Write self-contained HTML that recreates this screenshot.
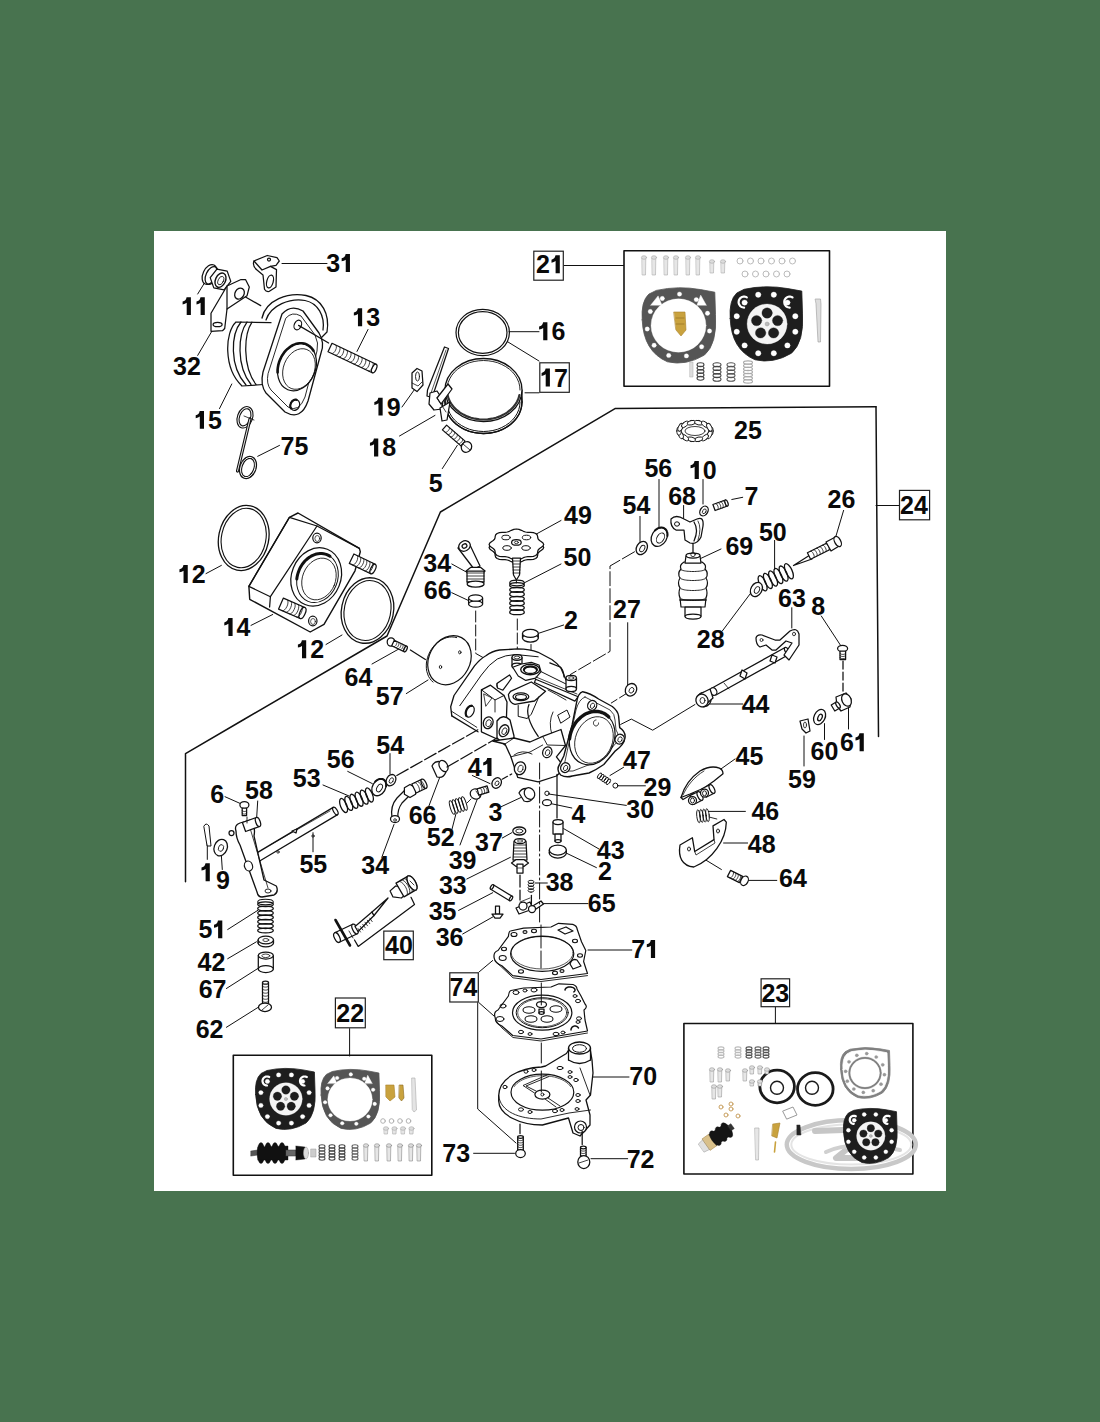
<!DOCTYPE html>
<html><head><meta charset="utf-8"><style>
html,body{margin:0;padding:0;background:#48734f;width:1100px;height:1422px;overflow:hidden}
svg{position:absolute;left:0;top:0;display:block}
</style></head><body>
<svg width="1100" height="1422" viewBox="0 0 1100 1422">
<rect x="154" y="231" width="792" height="960" fill="#fff"/>
<g fill="none" stroke="#111" stroke-width="1.25" stroke-linecap="round" stroke-linejoin="round">
<path d="M282.0,263.5 L327.0,263.5" stroke-width="1.0"/>
<path d="M197.7,294.0 L206.0,280.5" stroke-width="1.0"/>
<path d="M197.7,355.4 L211.4,332.0" stroke-width="1.0"/>
<path d="M357.0,351.4 L368.0,329.5" stroke-width="1.0"/>
<path d="M219.5,408.6 L231.8,384.0" stroke-width="1.0"/>
<path d="M257.7,456.3 L279.5,445.4" stroke-width="1.0"/>
<path d="M402.0,407.0 L414.5,389.5" stroke-width="1.0"/>
<path d="M399.5,436.0 L435.0,415.4" stroke-width="1.0"/>
<path d="M442.3,468.6 L457.3,445.4" stroke-width="1.0"/>
<path d="M509.0,331.7 L539.0,331.7" stroke-width="1.0"/>
<path d="M507.7,341.8 L539.0,361.0" stroke-width="1.0"/>
<path d="M525.0,392.8 L539.0,392.8" stroke-width="1.0"/>
<path d="M564.0,265.5 L623.6,265.5" stroke-width="1.0"/>
<path d="M206.0,573.6 L221.4,565.4" stroke-width="1.0"/>
<path d="M251.0,625.4 L272.7,614.5" stroke-width="1.0"/>
<path d="M326.0,644.5 L342.0,635.0" stroke-width="1.0"/>
<path d="M372.0,664.0 L399.5,648.6" stroke-width="1.0"/>
<path d="M406.3,693.6 L428.0,680.0" stroke-width="1.0"/>
<path d="M536.4,534.0 L561.0,520.5" stroke-width="1.0"/>
<path d="M524.0,583.0 L561.0,564.0" stroke-width="1.0"/>
<path d="M451.8,564.0 L466.8,572.3" stroke-width="1.0"/>
<path d="M451.8,592.7 L469.5,601.0" stroke-width="1.0"/>
<path d="M537.7,633.6 L563.6,625.0" stroke-width="1.0"/>
<path d="M627.7,622.7 L627.7,685.4" stroke-width="1.0"/>
<path d="M640.0,516.4 L640.0,542.3" stroke-width="1.0"/>
<path d="M659.0,479.5 L659.0,528.6" stroke-width="1.0"/>
<path d="M683.6,505.5 L683.6,523.0" stroke-width="1.0"/>
<path d="M731.8,499.5 L742.7,497.3" stroke-width="1.0"/>
<path d="M703.0,479.5 L703.0,504.0" stroke-width="1.0"/>
<path d="M835.4,538.0 L843.6,510.4" stroke-width="1.0"/>
<path d="M774.6,540.4 L774.6,569.5" stroke-width="1.0"/>
<path d="M700.4,558.6 L721.0,549.0" stroke-width="1.0"/>
<path d="M791.8,607.7 L791.8,628.0" stroke-width="1.0"/>
<path d="M821.3,616.0 L841.0,646.0" stroke-width="1.0"/>
<path d="M722.3,631.0 L751.0,592.7" stroke-width="1.0"/>
<path d="M710.0,704.0 L742.7,704.0" stroke-width="1.0"/>
<path d="M876.0,505.5 L898.7,505.5" stroke-width="1.0"/>
<path d="M390.0,753.6 L390.0,774.0" stroke-width="1.0"/>
<path d="M347.7,771.4 L372.3,783.6" stroke-width="1.0"/>
<path d="M323.0,785.0 L349.0,796.0" stroke-width="1.0"/>
<path d="M225.0,796.7 L241.4,804.0" stroke-width="1.0"/>
<path d="M257.7,801.0 L256.4,821.8" stroke-width="1.0"/>
<path d="M313.0,832.7 L313.0,851.8" stroke-width="1.0"/>
<path d="M381.8,857.3 L394.0,824.5" stroke-width="1.0"/>
<path d="M207.3,842.3 L207.3,859.4" stroke-width="1.0"/>
<path d="M221.4,856.0 L222.3,869.5" stroke-width="1.0"/>
<path d="M227.7,929.5 L257.7,910.4" stroke-width="1.0"/>
<path d="M227.7,958.7 L256.4,941.8" stroke-width="1.0"/>
<path d="M472.3,775.5 L490.0,783.6" stroke-width="1.0"/>
<path d="M610.0,775.5 L623.6,767.3" stroke-width="1.0"/>
<path d="M618.0,785.8 L645.4,785.8" stroke-width="1.0"/>
<path d="M548.6,794.0 L626.3,805.4" stroke-width="1.0"/>
<path d="M549.4,803.3 L571.8,808.0" stroke-width="1.0"/>
<path d="M501.0,806.8 L521.4,797.3" stroke-width="1.0"/>
<path d="M428.6,806.8 L439.5,778.0" stroke-width="1.0"/>
<path d="M451.8,830.0 L456.0,813.6" stroke-width="1.0"/>
<path d="M460.0,845.0 L479.0,794.5" stroke-width="1.0"/>
<path d="M502.3,838.0 L511.8,832.7" stroke-width="1.0"/>
<path d="M563.6,828.6 L599.0,849.0" stroke-width="1.0"/>
<path d="M563.6,851.8 L596.4,867.6" stroke-width="1.0"/>
<path d="M466.8,879.0 L510.4,857.3" stroke-width="1.0"/>
<path d="M535.0,883.0 L547.3,883.0" stroke-width="1.0"/>
<path d="M541.8,903.6 L588.0,903.6" stroke-width="1.0"/>
<path d="M458.6,910.4 L492.7,892.7" stroke-width="1.0"/>
<path d="M462.7,934.0 L492.7,917.0" stroke-width="1.0"/>
<path d="M588.0,950.0 L631.8,950.0" stroke-width="1.0"/>
<path d="M719.5,770.0 L735.0,759.0" stroke-width="1.0"/>
<path d="M708.6,811.4 L745.4,811.4" stroke-width="1.0"/>
<path d="M723.6,843.0 L747.6,843.0" stroke-width="1.0"/>
<path d="M745.4,880.4 L776.8,880.4" stroke-width="1.0"/>
<path d="M692.3,851.8 L721.4,869.5" stroke-width="1.0"/>
<path d="M804.0,736.0 L804.0,766.0" stroke-width="1.0"/>
<path d="M824.5,723.6 L824.5,739.5" stroke-width="1.0"/>
<path d="M848.5,705.0 L848.5,729.0" stroke-width="1.0"/>
<path d="M226.4,988.5 L257.7,968.6" stroke-width="1.0"/>
<path d="M226.4,1027.3 L259.0,1006.8" stroke-width="1.0"/>
<path d="M349.6,1028.6 L349.6,1056.0" stroke-width="1.0"/>
<path d="M473.6,1153.3 L514.5,1153.3" stroke-width="1.0"/>
<path d="M591.0,1158.7 L627.7,1158.7" stroke-width="1.0"/>
<path d="M592.3,1077.0 L629.0,1077.0" stroke-width="1.0"/>
<path d="M775.4,1007.4 L775.4,1023.0" stroke-width="1.0"/>
<path d="M479.0,972.0 L492.7,960.5" stroke-width="1.0"/>
<path d="M479.0,1002.7 L494.0,1016.0" stroke-width="1.0"/>
<path d="M477.7,1002.7 L477.7,1109.0 L516.0,1143.0" stroke-width="1.0"/>
<path d="M876.0,406.7 L615.0,408.6 L440.4,512.0 L387.0,636.0 L243.0,720.0 L185.5,753.6 L185.5,881.8" stroke-width="1.5"/>
<path d="M876.0,406.7 L878.5,736.5" stroke-width="1.5"/>
<rect x="624" y="250.8" width="205.5" height="135.5" stroke-width="1.6"/>
<rect x="233.3" y="1055.3" width="198.5" height="120" stroke-width="1.6"/>
<rect x="683.9" y="1023.5" width="229" height="150.5" stroke-width="1.6"/>
<ellipse cx="209.5" cy="274.5" rx="6.5" ry="10.5" transform="rotate(25 209.5 274.5)" fill="#fff"/>
<ellipse cx="211.5" cy="275.5" rx="5.5" ry="9.5" transform="rotate(25 211.5 275.5)"/>
<path d="M230.8,281.4 L224.1,289.9 L213.8,287.9 L210.2,277.6 L216.9,269.1 L227.2,271.1Z" fill="#fff"/>
<ellipse cx="220.5" cy="280.2" rx="5.0" ry="7.5" transform="rotate(25 220.5 280.2)" stroke-width="1.4"/>
<ellipse cx="220.8" cy="280.6" rx="2.6" ry="4.5" transform="rotate(25 220.8 280.6)" stroke-width="0.8"/>
<path d="M211.0,313.3 L227.0,286.0 L241.0,279.5 L245.5,279.5 L249.3,287.0 L247.0,295.8 L227.0,309.0 L224.7,328.5 L222.5,330.7 L211.0,331.3Z" fill="#fff"/>
<path d="M227.0,286.0 L227.0,309.0"/>
<ellipse cx="239.5" cy="293.6" rx="4.5" ry="5.8" transform="rotate(30 239.5 293.6)" stroke-width="1.3"/>
<ellipse cx="217.6" cy="324.5" rx="4.5" ry="2.2"/>
<path d="M245.5,297.0 L260.7,305.6"/>
<path d="M254.0,261.0 L267.3,255.5 L277.0,257.6 L279.3,261.0 L276.0,265.3 L270.5,266.4 L262.0,270.0Z" fill="#fff"/>
<path d="M254,261 Q252,266 257,270 L263,275 L264.5,289.3 Q266,292 269,291.5 L276,287 L276.5,269.6 L270.5,266.4" fill="none"/>
<ellipse cx="270.0" cy="281.5" rx="3.2" ry="6.5" transform="rotate(15 270.0 281.5)"/>
<ellipse cx="269.0" cy="259.5" rx="1.5" ry="1.5"/>
<path d="M262,318 C266,300 288,292 306,295.5 C322,299 330,314 327,332 L321,338" fill="#fff" stroke-width="1.3"/>
<path d="M266,320 C271,305 290,298 305,300.5 C318,303 325,316 323,330" fill="none"/>
<path d="M271,322.7 L236,322 C225,332 223,368 242,386 L263.6,384.5" fill="#fff"/>
<path d="M241,322 C231,334 229,366 246,385" fill="none"/>
<path d="M247,322 C238,334 236,366 251,384.5" fill="none"/>
<path d="M252,322.2 C244,334 242,366 256,384.5" fill="none"/>
<path d="M282,314 Q291,304 303,311 L319,333 Q325,343 321,353 L308,401 Q301,421 285,412 L266,393 Q260,385 263,372 Z" fill="#fff" stroke-width="1.3"/>
<path d="M286,318 Q292,311 301,316 L315,335 Q319,343 317,351 L305,397 Q299,413 288,407 L271,390 Q266,384 268,374 Z" fill="none" stroke-width="0.9"/>
<ellipse cx="297.0" cy="367.0" rx="18.5" ry="24.5" transform="rotate(22 297.0 367.0)" fill="#fff"/>
<path d="M277.6,372.4 L277.6,369.8 L277.9,367.2 L278.4,364.6 L279.1,362.1 L280.1,359.6 L281.2,357.2 L282.5,354.9 L284.0,352.7 L285.7,350.7 L287.5,348.9 L289.4,347.4 L291.4,346.0 L293.4,344.9 L295.5,344.1 L297.6,343.6 L299.8,343.3 L301.8,343.3 L303.9,343.6 L305.8,344.1 L307.6,345.0 L309.3,346.1 L310.9,347.4 L312.3,349.0 L313.5,350.8" stroke-width="2.6"/>
<ellipse cx="299.0" cy="369.0" rx="15.5" ry="21.0" transform="rotate(22 299.0 369.0)" stroke-width="0.8"/>
<ellipse cx="297.8" cy="325.0" rx="3.5" ry="5.0" transform="rotate(25 297.8 325.0)" stroke-width="1.2"/>
<ellipse cx="295.0" cy="405.0" rx="4.5" ry="5.5" transform="rotate(25 295.0 405.0)" stroke-width="1.2"/>
<path d="M290.9,408.4 L290.7,407.9 L290.6,407.5 L290.4,407.0 L290.3,406.5 L290.3,405.9 L290.3,405.4 L290.4,404.8 L290.5,404.3 L290.7,403.8 L290.9,403.2 L291.1,402.7 L291.4,402.3 L291.7,401.8 L292.1,401.4 L292.5,401.0 L292.9,400.7 L293.3,400.4 L293.8,400.1 L294.2,399.9 L294.7,399.8 L295.2,399.7 L295.7,399.7 L296.1,399.7 L296.6,399.8" stroke-width="2.2"/>
<path d="M328.0,351.7 L372.2,372.7 L376.2,364.3 L332.0,343.3Z" fill="#fff"/>
<ellipse cx="374.2" cy="368.5" rx="2.1" ry="4.6" transform="rotate(25.413006136576573 374.2 368.5)" fill="#fff"/>
<path d="M335.7,345.1 L336.2,345.8 L336.4,346.9 L336.2,348.5 L335.6,350.1 L334.7,351.7 L333.6,352.8 L332.6,353.4 L331.7,353.4" stroke-width="0.8"/>
<path d="M339.3,346.8 L339.9,347.5 L340.1,348.7 L339.8,350.2 L339.2,351.9 L338.3,353.4 L337.3,354.6 L336.3,355.2 L335.4,355.2" stroke-width="0.8"/>
<path d="M343.0,348.6 L343.6,349.3 L343.8,350.4 L343.5,352.0 L342.9,353.6 L342.0,355.2 L341.0,356.3 L339.9,356.9 L339.1,356.9" stroke-width="0.8"/>
<path d="M346.7,350.3 L347.3,351.0 L347.5,352.2 L347.2,353.7 L346.6,355.4 L345.7,356.9 L344.7,358.1 L343.6,358.7 L342.8,358.7" stroke-width="0.8"/>
<path d="M350.4,352.1 L351.0,352.8 L351.1,353.9 L350.9,355.5 L350.3,357.1 L349.4,358.7 L348.3,359.8 L347.3,360.4 L346.4,360.4" stroke-width="0.8"/>
<path d="M354.1,353.8 L354.6,354.5 L354.8,355.7 L354.6,357.2 L354.0,358.9 L353.1,360.4 L352.0,361.6 L351.0,362.2 L350.1,362.2" stroke-width="0.8"/>
<path d="M357.8,355.6 L358.3,356.3 L358.5,357.4 L358.3,359.0 L357.7,360.6 L356.8,362.2 L355.7,363.3 L354.7,363.9 L353.8,363.9" stroke-width="0.8"/>
<path d="M361.4,357.3 L362.0,358.0 L362.2,359.2 L361.9,360.7 L361.3,362.4 L360.4,363.9 L359.4,365.1 L358.4,365.7 L357.5,365.7" stroke-width="0.8"/>
<path d="M365.1,359.1 L365.7,359.8 L365.9,360.9 L365.6,362.5 L365.0,364.1 L364.1,365.7 L363.1,366.8 L362.0,367.4 L361.2,367.4" stroke-width="0.8"/>
<path d="M368.8,360.8 L369.4,361.5 L369.6,362.7 L369.3,364.2 L368.7,365.9 L367.8,367.4 L366.8,368.6 L365.7,369.2 L364.9,369.2" stroke-width="0.8"/>
<path d="M372.5,362.6 L373.1,363.3 L373.2,364.4 L373.0,366.0 L372.4,367.6 L371.5,369.2 L370.4,370.3 L369.4,370.9 L368.5,370.9" stroke-width="0.8"/>
<path d="M298.6,325.4 L328.6,343.0"/>
<ellipse cx="245.0" cy="417.3" rx="6.5" ry="10.0" transform="rotate(20 245.0 417.3)" stroke-width="3.2" stroke="#111"/>
<ellipse cx="245.0" cy="417.3" rx="6.5" ry="10.0" transform="rotate(20 245.0 417.3)" stroke-width="1.0" stroke="#fff"/>
<path d="M250,419 L237.5,471" stroke-width="3.2" stroke="#111"/>
<path d="M250,419 L237.5,471" stroke-width="0.9" stroke="#fff"/>
<ellipse cx="248.0" cy="467.5" rx="7.0" ry="10.5" transform="rotate(20 248.0 467.5)" stroke-width="3.2" stroke="#111"/>
<ellipse cx="248.0" cy="467.5" rx="7.0" ry="10.5" transform="rotate(20 248.0 467.5)" stroke-width="0.9" stroke="#fff"/>
<path d="M244.0,416.0 L254.0,420.0" stroke-width="0.8"/>
<ellipse cx="482.7" cy="332.5" rx="26.7" ry="23.2" stroke-width="1.2"/>
<ellipse cx="482.7" cy="332.5" rx="24.3" ry="20.8" stroke-width="1.2"/>
<ellipse cx="483.5" cy="402.0" rx="38.5" ry="31.5" fill="#fff" stroke-width="1.3"/>
<path d="M445,390 L445,402" fill="none"/>
<path d="M522,390 L522,402" fill="none"/>
<ellipse cx="483.5" cy="390.0" rx="38.5" ry="31.5" fill="#fff" stroke-width="1.3"/>
<path d="M520.0,402.0 L519.7,405.9 L518.8,409.6 L517.2,413.3 L515.1,416.8 L512.5,420.0 L509.3,422.9 L505.7,425.4 L501.8,427.5 L497.5,429.3 L492.9,430.5 L488.3,431.2 L483.5,431.5 L478.7,431.2 L474.1,430.5 L469.5,429.3 L465.2,427.5 L461.3,425.4 L457.7,422.9 L454.5,420.0 L451.9,416.8 L449.8,413.3 L448.2,409.6 L447.3,405.9 L447.0,402.0" stroke-width="1.0"/>
<path d="M519.4,395.1 L518.5,398.5 L517.0,401.7 L515.1,404.8 L512.8,407.6 L510.0,410.2 L507.0,412.6 L503.6,414.6 L499.9,416.4 L496.0,417.7 L491.9,418.7 L487.7,419.3 L483.5,419.5 L479.3,419.3 L475.1,418.7 L471.0,417.7 L467.1,416.4 L463.4,414.6 L460.0,412.6 L457.0,410.2 L454.2,407.6 L451.9,404.8 L450.0,401.7 L448.5,398.5 L447.6,395.1" stroke-width="2.2" stroke="#333"/>
<path d="M522.0,402.0 L521.7,406.1 L520.7,410.2 L519.1,414.1 L516.8,417.8 L514.0,421.2 L510.7,424.3 L506.9,427.0 L502.8,429.3 L498.2,431.1 L493.5,432.4 L488.5,433.2 L483.5,433.5 L478.5,433.2 L473.5,432.4 L468.8,431.1 L464.2,429.3 L460.1,427.0 L456.3,424.3 L453.0,421.2 L450.2,417.8 L447.9,414.1 L446.3,410.2 L445.3,406.1 L445.0,402.0" stroke-width="1.3"/>
<path d="M447.0,390.0 L447.3,386.1 L448.2,382.4 L449.8,378.7 L451.9,375.2 L454.5,372.0 L457.7,369.1 L461.3,366.6 L465.2,364.5 L469.5,362.7 L474.1,361.5 L478.7,360.8 L483.5,360.5 L488.3,360.8 L492.9,361.5 L497.5,362.7 L501.8,364.5 L505.7,366.6 L509.3,369.1 L512.5,372.0 L515.1,375.2 L517.2,378.7 L518.8,382.4 L519.7,386.1 L520.0,390.0" stroke-width="0.9"/>
<path d="M444.5,347.0 L448.5,348.5 L434.0,392.0 L430.0,397.0 L427.0,396.0 L427.5,390.0Z" fill="#fff"/>
<path d="M446.0,350.0 L431.0,393.0" stroke-width="0.7"/>
<path d="M430.0,393.0 L437.0,391.0 L443.0,400.0 L442.0,409.0 L434.0,410.0 L429.0,404.0Z" fill="#fff"/>
<path d="M437.0,398.0 L448.0,384.0 L452.0,389.0 L441.0,404.0Z" fill="#fff"/>
<path d="M440.0,408.0 L450.0,402.0 L447.0,420.0 L442.0,421.0Z" fill="#fff"/>
<path d="M437.0,398.0 L446.0,412.0" stroke-width="0.8"/>
<path d="M412.0,373.0 L417.0,368.5 L422.0,371.0 L423.0,385.0 L417.0,391.6 L412.0,388.0Z" fill="#fff"/>
<ellipse cx="417.5" cy="376.5" rx="2.0" ry="4.5" stroke-width="0.9"/>
<path d="M412.0,383.0 L418.0,386.0 L422.0,382.0" stroke-width="0.8"/>
<path d="M442.4,429.9 L460.9,445.9 L465.1,441.1 L446.6,425.1Z" fill="#fff"/>
<path d="M449.2,427.4 L449.5,427.9 L449.4,428.7 L449.0,429.7 L448.2,430.7 L447.3,431.6 L446.4,432.2 L445.6,432.4 L445.0,432.2" stroke-width="0.8"/>
<path d="M451.9,429.7 L452.1,430.2 L452.0,431.0 L451.6,432.0 L450.9,433.0 L450.0,433.9 L449.1,434.4 L448.3,434.7 L447.7,434.5" stroke-width="0.8"/>
<path d="M454.5,431.9 L454.8,432.5 L454.7,433.3 L454.2,434.3 L453.5,435.3 L452.6,436.2 L451.7,436.7 L450.9,437.0 L450.3,436.8" stroke-width="0.8"/>
<path d="M457.2,434.2 L457.4,434.8 L457.3,435.6 L456.9,436.6 L456.2,437.6 L455.3,438.4 L454.4,439.0 L453.6,439.2 L453.0,439.1" stroke-width="0.8"/>
<path d="M459.8,436.5 L460.1,437.1 L460.0,437.9 L459.5,438.9 L458.8,439.9 L457.9,440.7 L457.0,441.3 L456.2,441.5 L455.6,441.3" stroke-width="0.8"/>
<path d="M462.5,438.8 L462.7,439.3 L462.6,440.2 L462.2,441.2 L461.4,442.2 L460.6,443.0 L459.6,443.6 L458.8,443.8 L458.3,443.6" stroke-width="0.8"/>
<ellipse cx="466.5" cy="447.0" rx="5.0" ry="5.5" transform="rotate(40 466.5 447.0)" fill="#fff"/>
<path d="M463.0,444.0 L470.0,450.0" stroke-width="0.8"/>
<ellipse cx="711.0" cy="431.0" rx="2.2" ry="4.2" fill="#fff" stroke-width="0.9"/>
<ellipse cx="709.4" cy="434.7" rx="2.2" ry="4.2" transform="rotate(25.714285714285715 709.4 434.7)" fill="#fff" stroke-width="0.9"/>
<ellipse cx="705.0" cy="437.6" rx="2.2" ry="4.2" transform="rotate(51.42857142857143 705.0 437.6)" fill="#fff" stroke-width="0.9"/>
<ellipse cx="698.6" cy="439.3" rx="2.2" ry="4.2" transform="rotate(77.14285714285714 698.6 439.3)" fill="#fff" stroke-width="0.9"/>
<ellipse cx="691.4" cy="439.3" rx="2.2" ry="4.2" transform="rotate(102.85714285714286 691.4 439.3)" fill="#fff" stroke-width="0.9"/>
<ellipse cx="685.0" cy="437.6" rx="2.2" ry="4.2" transform="rotate(128.57142857142858 685.0 437.6)" fill="#fff" stroke-width="0.9"/>
<ellipse cx="680.6" cy="434.7" rx="2.2" ry="4.2" transform="rotate(154.28571428571428 680.6 434.7)" fill="#fff" stroke-width="0.9"/>
<ellipse cx="679.0" cy="431.0" rx="2.2" ry="4.2" transform="rotate(180.0 679.0 431.0)" fill="#fff" stroke-width="0.9"/>
<ellipse cx="680.6" cy="427.3" rx="2.2" ry="4.2" transform="rotate(205.71428571428572 680.6 427.3)" fill="#fff" stroke-width="0.9"/>
<ellipse cx="685.0" cy="424.4" rx="2.2" ry="4.2" transform="rotate(231.42857142857142 685.0 424.4)" fill="#fff" stroke-width="0.9"/>
<ellipse cx="691.4" cy="422.7" rx="2.2" ry="4.2" transform="rotate(257.14285714285717 691.4 422.7)" fill="#fff" stroke-width="0.9"/>
<ellipse cx="698.6" cy="422.7" rx="2.2" ry="4.2" transform="rotate(282.85714285714283 698.6 422.7)" fill="#fff" stroke-width="0.9"/>
<ellipse cx="705.0" cy="424.4" rx="2.2" ry="4.2" transform="rotate(308.57142857142856 705.0 424.4)" fill="#fff" stroke-width="0.9"/>
<ellipse cx="709.4" cy="427.3" rx="2.2" ry="4.2" transform="rotate(334.2857142857143 709.4 427.3)" fill="#fff" stroke-width="0.9"/>
<ellipse cx="695.0" cy="431.0" rx="10.0" ry="4.5" stroke-width="0.8"/>
<ellipse cx="243.7" cy="538.0" rx="25.0" ry="32.8" transform="rotate(12 243.7 538.0)" stroke-width="1.3"/>
<ellipse cx="243.7" cy="538.0" rx="22.2" ry="30.0" transform="rotate(12 243.7 538.0)" stroke-width="1.1"/>
<ellipse cx="367.5" cy="610.5" rx="26.0" ry="33.0" transform="rotate(12 367.5 610.5)" stroke-width="1.3"/>
<ellipse cx="367.5" cy="610.5" rx="23.2" ry="30.2" transform="rotate(12 367.5 610.5)" stroke-width="1.1"/>
<path d="M289.4,517.3 L298.0,513.0 L359.4,548.4 L360.3,551.8 L355.0,570.8 L324.0,624.4 L310.2,632.0 L249.7,599.3 L248.9,586.4Z" fill="#fff" stroke-width="1.4"/>
<path d="M289.4,517.3 L317.0,526.0 L359.4,548.4"/>
<path d="M317.0,526.0 L270.4,596.7 L269.6,607.0"/>
<path d="M248.9,586.4 L270.4,596.7"/>
<path d="M289.0,518.0 L249.0,586.0"/>
<ellipse cx="316.2" cy="576.9" rx="24.6" ry="29.8" transform="rotate(22 316.2 576.9)" fill="#fff"/>
<ellipse cx="317.5" cy="578.0" rx="20.0" ry="25.2" transform="rotate(22 317.5 578.0)" stroke-width="1.0"/>
<path d="M296.8,579.0 L297.1,576.8 L297.6,574.7 L298.2,572.6 L299.0,570.5 L299.8,568.5 L300.9,566.6 L302.0,564.7 L303.3,563.0 L304.7,561.3 L306.2,559.8 L307.7,558.5 L309.4,557.2 L311.1,556.2 L312.8,555.3 L314.6,554.6 L316.4,554.0 L318.2,553.7 L320.0,553.5 L321.8,553.5 L323.6,553.7 L325.3,554.1 L326.9,554.6 L328.5,555.4 L330.0,556.3" stroke-width="3.0"/>
<ellipse cx="319.0" cy="579.0" rx="16.5" ry="21.5" transform="rotate(22 319.0 579.0)" stroke-width="0.8"/>
<ellipse cx="317.0" cy="538.0" rx="4.2" ry="4.8" stroke-width="1.2"/>
<ellipse cx="317.3" cy="538.5" rx="2.4" ry="3.0" stroke-width="0.7"/>
<ellipse cx="312.8" cy="621.0" rx="4.2" ry="4.8" stroke-width="1.2"/>
<ellipse cx="313.0" cy="621.5" rx="2.4" ry="3.0" stroke-width="0.7"/>
<path d="M349.3,563.4 L370.7,573.7 L375.3,564.3 L353.9,554.0Z" fill="#fff"/>
<ellipse cx="373.0" cy="569.0" rx="2.3" ry="5.2" transform="rotate(25.701903228733627 373.0 569.0)" fill="#fff"/>
<path d="M356.9,555.5 L357.5,556.2 L357.7,557.6 L357.5,559.3 L356.8,561.2 L355.7,562.9 L354.6,564.2 L353.4,564.9 L352.4,564.9" stroke-width="0.8"/>
<path d="M360.0,557.0 L360.6,557.7 L360.8,559.0 L360.5,560.8 L359.8,562.7 L358.8,564.4 L357.6,565.7 L356.4,566.4 L355.5,566.3" stroke-width="0.8"/>
<path d="M363.0,558.4 L363.7,559.2 L363.9,560.5 L363.6,562.3 L362.9,564.1 L361.9,565.8 L360.7,567.1 L359.5,567.8 L358.5,567.8" stroke-width="0.8"/>
<path d="M366.1,559.9 L366.7,560.6 L366.9,562.0 L366.6,563.7 L365.9,565.6 L364.9,567.3 L363.7,568.6 L362.6,569.3 L361.6,569.3" stroke-width="0.8"/>
<path d="M369.1,561.4 L369.8,562.1 L370.0,563.5 L369.7,565.2 L369.0,567.1 L368.0,568.8 L366.8,570.1 L365.6,570.8 L364.6,570.7" stroke-width="0.8"/>
<path d="M372.2,562.8 L372.8,563.6 L373.0,564.9 L372.8,566.7 L372.1,568.5 L371.0,570.3 L369.8,571.6 L368.7,572.2 L367.7,572.2" stroke-width="0.8"/>
<path d="M278.6,609.1 L300.1,618.5 L304.9,607.5 L283.4,598.1Z" fill="#fff"/>
<ellipse cx="302.5" cy="613.0" rx="2.7" ry="6.0" transform="rotate(23.61539633036984 302.5 613.0)" fill="#fff"/>
<path d="M287.0,599.7 L287.8,600.5 L288.0,602.0 L287.8,604.1 L287.1,606.2 L285.9,608.3 L284.6,609.8 L283.3,610.7 L282.2,610.7" stroke-width="0.8"/>
<path d="M290.6,601.2 L291.3,602.1 L291.6,603.6 L291.4,605.6 L290.6,607.8 L289.5,609.8 L288.2,611.4 L286.9,612.2 L285.8,612.2" stroke-width="0.8"/>
<path d="M294.2,602.8 L294.9,603.6 L295.2,605.2 L295.0,607.2 L294.2,609.4 L293.1,611.4 L291.8,613.0 L290.5,613.8 L289.3,613.8" stroke-width="0.8"/>
<path d="M297.7,604.4 L298.5,605.2 L298.8,606.7 L298.5,608.8 L297.8,610.9 L296.7,613.0 L295.4,614.5 L294.1,615.4 L292.9,615.4" stroke-width="0.8"/>
<path d="M301.3,605.9 L302.1,606.8 L302.4,608.3 L302.1,610.3 L301.4,612.5 L300.3,614.5 L299.0,616.1 L297.6,616.9 L296.5,616.9" stroke-width="0.8"/>
<ellipse cx="391.0" cy="642.0" rx="3.8" ry="4.2" fill="#fff"/>
<path d="M391.7,645.7 L404.2,651.7 L406.8,646.3 L394.3,640.3Z" fill="#fff"/>
<ellipse cx="405.5" cy="649.0" rx="1.4" ry="3.0" transform="rotate(25.641005824305285 405.5 649.0)" fill="#fff"/>
<path d="M396.4,641.3 L396.7,641.7 L396.9,642.5 L396.7,643.5 L396.3,644.6 L395.7,645.6 L395.0,646.3 L394.3,646.7 L393.8,646.7" stroke-width="0.8"/>
<path d="M398.5,642.3 L398.8,642.7 L398.9,643.5 L398.8,644.5 L398.4,645.6 L397.8,646.6 L397.1,647.3 L396.4,647.7 L395.9,647.7" stroke-width="0.8"/>
<path d="M400.5,643.3 L400.9,643.7 L401.0,644.5 L400.9,645.5 L400.5,646.6 L399.9,647.6 L399.2,648.3 L398.5,648.7 L398.0,648.7" stroke-width="0.8"/>
<path d="M402.6,644.3 L403.0,644.7 L403.1,645.5 L403.0,646.5 L402.6,647.6 L402.0,648.6 L401.3,649.3 L400.6,649.7 L400.0,649.7" stroke-width="0.8"/>
<path d="M404.7,645.3 L405.1,645.7 L405.2,646.5 L405.0,647.5 L404.6,648.6 L404.0,649.6 L403.4,650.3 L402.7,650.7 L402.1,650.7" stroke-width="0.8"/>
<path d="M410.4,650.0 L425.4,659.5"/>
<ellipse cx="449.5" cy="660.2" rx="20.5" ry="25.6" transform="rotate(28 449.5 660.2)" fill="#fff" stroke-width="1.2"/>
<path d="M433.0,682.1 L431.3,680.4 L429.8,678.4 L428.5,676.3 L427.6,673.9 L426.8,671.3 L426.4,668.7 L426.3,665.9 L426.4,663.0 L426.9,660.2 L427.6,657.3 L428.6,654.6 L429.9,651.9 L431.4,649.3 L433.2,646.9 L435.1,644.7 L437.2,642.8 L439.5,641.0 L441.9,639.6 L444.3,638.5 L446.8,637.6 L449.4,637.1 L451.9,636.9 L454.3,637.1 L456.7,637.6" stroke-width="1.0"/>
<ellipse cx="459.8" cy="652.3" rx="1.2" ry="1.6" stroke-width="0.9"/>
<ellipse cx="440.5" cy="667.0" rx="1.2" ry="1.6" stroke-width="0.9"/>
<path d="M458,548 Q462,540 469,543 L480,566 L474,569 Z" fill="#fff"/>
<ellipse cx="464.5" cy="546.0" rx="6.0" ry="5.0" transform="rotate(-30 464.5 546.0)" fill="#fff"/>
<ellipse cx="464.5" cy="546.0" rx="2.5" ry="2.0" transform="rotate(-30 464.5 546.0)"/>
<path d="M485.1,571.0 L480.4,574.7 L470.9,574.7 L466.1,571.0 L470.9,567.3 L480.4,567.3Z" fill="#fff"/>
<path d="M467.0,571.0 L484.0,571.0 L484.0,582.0 L467.0,582.0Z" fill="#fff"/>
<path d="M467.0,573.0 L484.0,573.0" stroke-width="0.8"/>
<path d="M467.0,576.0 L484.0,576.0" stroke-width="0.8"/>
<path d="M467.0,579.0 L484.0,579.0" stroke-width="0.8"/>
<path d="M467.0,582.0 L484.0,582.0" stroke-width="0.8"/>
<ellipse cx="475.6" cy="584.0" rx="8.5" ry="3.0" fill="#fff"/>
<path d="M468.6,598.0 L482.6,598.0 L482.6,604.0 L468.6,604.0Z" fill="#fff"/>
<ellipse cx="475.6" cy="604.0" rx="7.0" ry="3.2" fill="#fff"/>
<ellipse cx="475.6" cy="598.0" rx="7.0" ry="3.2" fill="#fff"/>
<path d="M543.7,547.5 L543.0,549.0 L541.4,550.3 L539.6,551.5 L538.3,552.7 L537.8,554.0 L537.6,555.6 L537.1,557.2 L535.7,558.5 L533.4,559.3 L530.6,559.6 L527.8,559.7 L525.5,560.0 L523.4,560.7 L521.4,561.7 L519.0,562.6 L516.4,563.0 L513.8,562.6 L511.4,561.7 L509.4,560.7 L507.3,560.0 L505.0,559.7 L502.2,559.6 L499.4,559.3 L497.1,558.5 L495.7,557.2 L495.2,555.6 L495.0,554.0 L494.5,552.7 L493.2,551.5 L491.4,550.3 L489.8,549.0 L489.1,547.5 L489.8,546.0 L491.4,544.7 L493.2,543.5 L494.5,542.3 L495.0,541.0 L495.2,539.4 L495.7,537.8 L497.1,536.5 L499.4,535.7 L502.2,535.4 L505.0,535.3 L507.3,535.0 L509.4,534.3 L511.4,533.3 L513.8,532.4 L516.4,532.0 L519.0,532.4 L521.4,533.3 L523.4,534.3 L525.5,535.0 L527.8,535.3 L530.6,535.4 L533.4,535.7 L535.7,536.5 L537.1,537.8 L537.6,539.4 L537.8,541.0 L538.3,542.3 L539.6,543.5 L541.4,544.7 L543.0,546.0Z" fill="#fff"/>
<path d="M543.7,544.5 L543.0,546.0 L541.4,547.3 L539.6,548.5 L538.3,549.7 L537.8,551.0 L537.6,552.6 L537.1,554.2 L535.7,555.5 L533.4,556.3 L530.6,556.6 L527.8,556.7 L525.5,557.0 L523.4,557.7 L521.4,558.7 L519.0,559.6 L516.4,560.0 L513.8,559.6 L511.4,558.7 L509.4,557.7 L507.3,557.0 L505.0,556.7 L502.2,556.6 L499.4,556.3 L497.1,555.5 L495.7,554.2 L495.2,552.6 L495.0,551.0 L494.5,549.7 L493.2,548.5 L491.4,547.3 L489.8,546.0 L489.1,544.5 L489.8,543.0 L491.4,541.7 L493.2,540.5 L494.5,539.3 L495.0,538.0 L495.2,536.4 L495.7,534.8 L497.1,533.5 L499.4,532.7 L502.2,532.4 L505.0,532.3 L507.3,532.0 L509.4,531.3 L511.4,530.3 L513.8,529.4 L516.4,529.0 L519.0,529.4 L521.4,530.3 L523.4,531.3 L525.5,532.0 L527.8,532.3 L530.6,532.4 L533.4,532.7 L535.7,533.5 L537.1,534.8 L537.6,536.4 L537.8,538.0 L538.3,539.3 L539.6,540.5 L541.4,541.7 L543.0,543.0Z" fill="#fff"/>
<ellipse cx="506.0" cy="537.5" rx="4.2" ry="2.3" stroke-width="1.0"/>
<ellipse cx="526.5" cy="537.5" rx="4.2" ry="2.3" stroke-width="1.0"/>
<ellipse cx="507.0" cy="548.0" rx="4.2" ry="2.3" stroke-width="1.0"/>
<ellipse cx="526.0" cy="548.0" rx="4.2" ry="2.3" stroke-width="1.0"/>
<ellipse cx="516.4" cy="542.4" rx="4.8" ry="2.8"/>
<ellipse cx="516.4" cy="542.4" rx="2.0" ry="1.2" stroke-width="0.8"/>
<path d="M512.5,558.0 L520.5,558.0 L519.5,575.0 L516.4,580.0 L513.5,575.0Z" fill="#fff"/>
<path d="M513.0,561.0 L520.0,561.0" stroke-width="0.8"/>
<path d="M513.0,564.0 L520.0,564.0" stroke-width="0.8"/>
<path d="M513.0,567.0 L520.0,567.0" stroke-width="0.8"/>
<path d="M513.0,570.0 L520.0,570.0" stroke-width="0.8"/>
<path d="M513.0,573.0 L520.0,573.0" stroke-width="0.8"/>
<ellipse cx="517.0" cy="585.2" rx="2.5" ry="7.3" transform="rotate(90.0 517.0 585.2)" stroke-width="1.3"/>
<ellipse cx="517.0" cy="589.8" rx="2.5" ry="7.3" transform="rotate(90.0 517.0 589.8)" stroke-width="1.3"/>
<ellipse cx="517.0" cy="594.2" rx="2.5" ry="7.3" transform="rotate(90.0 517.0 594.2)" stroke-width="1.3"/>
<ellipse cx="517.0" cy="598.8" rx="2.5" ry="7.3" transform="rotate(90.0 517.0 598.8)" stroke-width="1.3"/>
<ellipse cx="517.0" cy="603.2" rx="2.5" ry="7.3" transform="rotate(90.0 517.0 603.2)" stroke-width="1.3"/>
<ellipse cx="517.0" cy="607.8" rx="2.5" ry="7.3" transform="rotate(90.0 517.0 607.8)" stroke-width="1.3"/>
<ellipse cx="517.0" cy="612.2" rx="2.5" ry="7.3" transform="rotate(90.0 517.0 612.2)" stroke-width="1.3"/>
<ellipse cx="517.0" cy="583.0" rx="7.3" ry="2.8" stroke-width="1.2"/>
<path d="M522.5,633.5 L538.3,633.5 L538.3,638.0 L522.5,638.0Z" fill="#fff"/>
<ellipse cx="530.4" cy="638.0" rx="7.9" ry="4.0" fill="#fff"/>
<ellipse cx="530.4" cy="633.4" rx="7.9" ry="4.0" fill="#fff"/>
<path d="M475.7,611.0 L475.7,653.4 L509.8,672.7" stroke-width="1.0" stroke-dasharray="11,3"/>
<path d="M517.3,619.0 L517.3,656.0" stroke-width="1.0" stroke-dasharray="11,3"/>
<path d="M531.0,644.5 L531.0,664.0" stroke-width="1.0"/>
<path d="M516.4,581.0 L516.4,583.0" stroke-width="1.0"/>
<path d="M634.5,551.8 L610.0,566.0 L610.0,651.4 L570.4,674.5" stroke-width="1.0" stroke-dasharray="14,3"/>
<path d="M626.3,693.6 L611.3,703.0" stroke-width="1.0" stroke-dasharray="8,3"/>
<path d="M695.0,704.5 L652.7,730.2 L631.3,719.1 L620.7,724.4" stroke-width="1.0"/>
<ellipse cx="641.8" cy="548.0" rx="5.2" ry="7.0" transform="rotate(30 641.8 548.0)" fill="#fff" stroke-width="1.3"/>
<ellipse cx="642.3" cy="548.5" rx="2.2" ry="3.5" transform="rotate(30 642.3 548.5)" stroke-width="0.9"/>
<ellipse cx="659.3" cy="537.0" rx="7.5" ry="10.0" transform="rotate(30 659.3 537.0)" fill="#fff" stroke-width="1.3"/>
<ellipse cx="660.5" cy="538.0" rx="3.5" ry="5.5" transform="rotate(30 660.5 538.0)" stroke-width="0.9"/>
<path d="M654.9,530.5 L655.6,529.9 L656.3,529.3 L657.0,528.9 L657.8,528.4 L658.5,528.1 L659.3,527.8 L660.1,527.7 L660.9,527.6 L661.6,527.6 L662.3,527.6 L663.0,527.8 L663.7,528.0 L664.3,528.4 L664.9,528.8 L665.5,529.2 L666.0,529.8 L666.4,530.4 L666.7,531.0 L667.0,531.8 L667.3,532.5 L667.4,533.3 L667.5,534.2 L667.5,535.0 L667.4,535.9" stroke-width="2"/>
<path d="M671,519 Q676,514 684,519 L690,522 L697,519 Q704,516 703,526 L701,537 Q697,545 690,543 L685,540 L684,530 L676,530 Q670,527 671,519 Z" fill="#fff"/>
<ellipse cx="677.0" cy="524.0" rx="2.5" ry="2.2" stroke-width="1.0"/>
<path d="M694,522 Q699,530 694,541" fill="none"/>
<path d="M698,521 Q702,528 698,540" fill="none" stroke-width="0.8"/>
<path d="M693.0,543.6 L693.0,551.8"/>
<ellipse cx="704.0" cy="511.0" rx="3.8" ry="5.2" transform="rotate(30 704.0 511.0)" fill="#fff" stroke-width="1.3"/>
<ellipse cx="704.3" cy="511.3" rx="1.6" ry="2.6" transform="rotate(30 704.3 511.3)" stroke-width="0.8"/>
<path d="M715.1,510.5 L727.6,506.0 L725.4,500.0 L712.9,504.5Z" fill="#fff"/>
<ellipse cx="726.5" cy="503.0" rx="1.4" ry="3.2" transform="rotate(-19.798876354524932 726.5 503.0)" fill="#fff"/>
<path d="M715.4,503.6 L716.0,503.6 L716.7,504.1 L717.3,505.0 L717.9,506.1 L718.2,507.3 L718.2,508.4 L718.0,509.2 L717.6,509.6" stroke-width="0.8"/>
<path d="M717.9,502.7 L718.5,502.7 L719.2,503.2 L719.8,504.1 L720.4,505.2 L720.7,506.4 L720.7,507.5 L720.5,508.3 L720.1,508.7" stroke-width="0.8"/>
<path d="M720.4,501.8 L721.0,501.8 L721.7,502.3 L722.3,503.2 L722.9,504.3 L723.2,505.5 L723.2,506.6 L723.0,507.4 L722.6,507.8" stroke-width="0.8"/>
<path d="M722.9,500.9 L723.5,500.9 L724.2,501.4 L724.8,502.3 L725.4,503.4 L725.7,504.6 L725.7,505.7 L725.5,506.5 L725.1,506.9" stroke-width="0.8"/>
<path d="M681,569 Q679,565 684,562 L702,562 Q707,565 705,569 Q709,573 706,578 Q709,583 706,588 Q708,593 706,598 L705,607 L681,607 L680,598 Q678,593 680,588 Q677,583 680,578 Q677,573 681,569 Z" fill="#fff" stroke-width="1.2"/>
<path d="M705.5,569.0 L705.4,569.3 L705.1,569.6 L704.5,570.0 L703.8,570.2 L702.9,570.5 L701.8,570.8 L700.6,571.0 L699.2,571.2 L697.8,571.3 L696.2,571.4 L694.6,571.5 L693.0,571.5 L691.4,571.5 L689.8,571.4 L688.2,571.3 L686.8,571.2 L685.4,571.0 L684.2,570.8 L683.1,570.5 L682.2,570.2 L681.5,570.0 L680.9,569.6 L680.6,569.3 L680.5,569.0" stroke-width="0.9"/>
<path d="M705.5,578.0 L705.4,578.3 L705.1,578.6 L704.5,579.0 L703.8,579.2 L702.9,579.5 L701.8,579.8 L700.6,580.0 L699.2,580.2 L697.8,580.3 L696.2,580.4 L694.6,580.5 L693.0,580.5 L691.4,580.5 L689.8,580.4 L688.2,580.3 L686.8,580.2 L685.4,580.0 L684.2,579.8 L683.1,579.5 L682.2,579.2 L681.5,579.0 L680.9,578.6 L680.6,578.3 L680.5,578.0" stroke-width="0.9"/>
<path d="M705.5,588.0 L705.4,588.3 L705.1,588.6 L704.5,589.0 L703.8,589.2 L702.9,589.5 L701.8,589.8 L700.6,590.0 L699.2,590.2 L697.8,590.3 L696.2,590.4 L694.6,590.5 L693.0,590.5 L691.4,590.5 L689.8,590.4 L688.2,590.3 L686.8,590.2 L685.4,590.0 L684.2,589.8 L683.1,589.5 L682.2,589.2 L681.5,589.0 L680.9,588.6 L680.6,588.3 L680.5,588.0" stroke-width="0.9"/>
<path d="M705.5,598.0 L705.4,598.3 L705.1,598.6 L704.5,599.0 L703.8,599.2 L702.9,599.5 L701.8,599.8 L700.6,600.0 L699.2,600.2 L697.8,600.3 L696.2,600.4 L694.6,600.5 L693.0,600.5 L691.4,600.5 L689.8,600.4 L688.2,600.3 L686.8,600.2 L685.4,600.0 L684.2,599.8 L683.1,599.5 L682.2,599.2 L681.5,599.0 L680.9,598.6 L680.6,598.3 L680.5,598.0" stroke-width="0.9"/>
<path d="M686.0,556.0 L700.0,556.0 L701.0,563.0 L685.0,563.0Z" fill="#fff"/>
<ellipse cx="693.0" cy="555.5" rx="7.0" ry="2.5" fill="#fff"/>
<ellipse cx="693.0" cy="554.5" rx="2.2" ry="2.2" stroke-width="0.8"/>
<path d="M685.0,607.0 L701.0,607.0 L701.0,616.0 L685.0,616.0Z" fill="#fff"/>
<ellipse cx="693.0" cy="616.5" rx="8.0" ry="2.5" fill="#fff"/>
<path d="M680.0,600.0 L706.0,600.0" stroke-width="1.6"/>
<path d="M793.5,565.5 L810.0,555.0 L812.0,559.0Z" fill="#fff"/>
<path d="M810.6,559.2 L831.6,548.7 L828.4,542.3 L807.4,552.8Z" fill="#fff"/>
<path d="M810.4,551.3 L811.1,551.2 L811.9,551.7 L812.7,552.6 L813.4,553.8 L814.0,555.1 L814.2,556.3 L814.0,557.2 L813.6,557.7" stroke-width="0.8"/>
<path d="M813.4,549.8 L814.1,549.7 L814.9,550.2 L815.7,551.1 L816.4,552.3 L817.0,553.6 L817.2,554.8 L817.0,555.7 L816.6,556.2" stroke-width="0.8"/>
<path d="M816.4,548.3 L817.1,548.2 L817.9,548.7 L818.7,549.6 L819.4,550.8 L820.0,552.1 L820.2,553.3 L820.0,554.2 L819.6,554.7" stroke-width="0.8"/>
<path d="M819.4,546.8 L820.1,546.7 L820.9,547.2 L821.7,548.1 L822.4,549.3 L823.0,550.6 L823.2,551.8 L823.0,552.7 L822.6,553.2" stroke-width="0.8"/>
<path d="M822.4,545.3 L823.1,545.2 L823.9,545.7 L824.7,546.6 L825.4,547.8 L826.0,549.1 L826.2,550.3 L826.0,551.2 L825.6,551.7" stroke-width="0.8"/>
<path d="M825.4,543.8 L826.1,543.7 L826.9,544.2 L827.7,545.1 L828.4,546.3 L829.0,547.6 L829.2,548.8 L829.0,549.7 L828.6,550.2" stroke-width="0.8"/>
<path d="M826.0,542.0 L835.5,537.0 L840.0,545.5 L831.0,551.0Z" fill="#fff"/>
<ellipse cx="837.7" cy="541.5" rx="3.0" ry="5.5" transform="rotate(-28 837.7 541.5)" fill="#fff"/>
<ellipse cx="762.6" cy="583.3" rx="3.2" ry="8.2" transform="rotate(-24.717440911083393 762.6 583.3)" stroke-width="1.3"/>
<ellipse cx="767.9" cy="580.9" rx="3.2" ry="8.2" transform="rotate(-24.717440911083393 767.9 580.9)" stroke-width="1.3"/>
<ellipse cx="773.1" cy="578.5" rx="3.2" ry="8.2" transform="rotate(-24.717440911083393 773.1 578.5)" stroke-width="1.3"/>
<ellipse cx="778.4" cy="576.0" rx="3.2" ry="8.2" transform="rotate(-24.717440911083393 778.4 576.0)" stroke-width="1.3"/>
<ellipse cx="783.6" cy="573.6" rx="3.2" ry="8.2" transform="rotate(-24.717440911083393 783.6 573.6)" stroke-width="1.3"/>
<ellipse cx="788.9" cy="571.2" rx="3.2" ry="8.2" transform="rotate(-24.717440911083393 788.9 571.2)" stroke-width="1.3"/>
<ellipse cx="756.4" cy="589.5" rx="5.5" ry="7.5" transform="rotate(30 756.4 589.5)" fill="#fff" stroke-width="1.3"/>
<ellipse cx="757.0" cy="590.0" rx="2.3" ry="3.5" transform="rotate(30 757.0 590.0)" stroke-width="0.9"/>
<path d="M715.9,695.0 L788.9,654.5 L785.1,647.5 L712.1,688.0Z" fill="#fff"/>
<ellipse cx="787.0" cy="651.0" rx="1.8" ry="4.0" transform="rotate(-29.021273224702597 787.0 651.0)" fill="#fff"/>
<ellipse cx="713.5" cy="691.5" rx="3.2" ry="4.0" transform="rotate(-29 713.5 691.5)" fill="#fff"/>
<path d="M724.0,683.0 L729.0,689.0" stroke-width="0.8"/>
<path d="M740.0,676.0 L745.0,679.0 L747.0,673.0 L742.0,670.0Z" fill="#fff"/>
<path d="M770.0,661.0 L775.0,663.0 L777.0,657.0 L772.0,655.0Z" fill="#fff"/>
<path d="M756,638 Q757,634 762,635 L775,640 L780,640 L790,631 Q797,627 799,634 L799,645 L789,660 L784,655 L792,643 L786,641 L776,650 L772,650 L766,645 L760,647 Q756,645 756,638 Z" fill="#fff"/>
<ellipse cx="761.5" cy="640.0" rx="1.5" ry="1.5" stroke-width="0.8"/>
<ellipse cx="794.0" cy="634.0" rx="1.5" ry="1.8" stroke-width="0.8"/>
<ellipse cx="704.0" cy="699.5" rx="7.0" ry="7.0" transform="rotate(-30 704.0 699.5)" fill="#fff" stroke-width="1.3"/>
<path d="M700.0,694.0 L710.0,689.0 L713.0,698.0 L705.0,705.0Z" fill="#fff"/>
<ellipse cx="702.0" cy="700.5" rx="6.0" ry="6.5" transform="rotate(-30 702.0 700.5)" fill="#fff" stroke-width="1.3"/>
<ellipse cx="702.5" cy="700.5" rx="2.5" ry="3.0" stroke-width="0.9"/>
<ellipse cx="842.6" cy="648.5" rx="5.0" ry="3.2" fill="#fff"/>
<path d="M840.0,651.0 L840.0,659.5 L845.6,659.5 L845.6,651.0Z" fill="#fff"/>
<path d="M845.6,653.1 L845.4,653.6 L844.8,654.0 L843.9,654.3 L842.8,654.4 L841.7,654.3 L840.8,654.0 L840.2,653.6 L840.0,653.1" stroke-width="0.8"/>
<path d="M845.6,655.2 L845.4,655.7 L844.8,656.1 L843.9,656.4 L842.8,656.5 L841.7,656.4 L840.8,656.1 L840.2,655.7 L840.0,655.2" stroke-width="0.8"/>
<path d="M845.6,657.4 L845.4,657.9 L844.8,658.3 L843.9,658.5 L842.8,658.6 L841.7,658.5 L840.8,658.3 L840.2,657.9 L840.0,657.4" stroke-width="0.8"/>
<path d="M843.0,661.0 L843.0,691.0" stroke-dasharray="8,3"/>
<path d="M836.0,697.0 L846.0,693.0 L851.0,699.0 L850.0,707.0 L841.0,711.0 L837.0,706.0Z" fill="#fff"/>
<ellipse cx="846.5" cy="700.0" rx="4.5" ry="6.5" transform="rotate(-25 846.5 700.0)" fill="#fff"/>
<path d="M834.8,711.0 L839.8,708.0 L836.2,702.0 L831.2,705.0Z" fill="#fff"/>
<ellipse cx="838.0" cy="705.0" rx="1.6" ry="3.5" transform="rotate(-30.96375653207352 838.0 705.0)" fill="#fff"/>
<ellipse cx="819.6" cy="717.0" rx="5.5" ry="8.0" transform="rotate(25 819.6 717.0)" fill="#fff" stroke-width="1.3"/>
<ellipse cx="820.0" cy="717.5" rx="2.0" ry="3.5" transform="rotate(25 820.0 717.5)"/>
<path d="M800.0,721.0 L808.0,719.0 L810.0,731.0 L806.0,733.0 L802.0,729.0Z" fill="#fff"/>
<ellipse cx="805.0" cy="725.0" rx="1.5" ry="3.0" stroke-width="0.8"/>
<ellipse cx="631.0" cy="689.8" rx="5.5" ry="6.5" transform="rotate(30 631.0 689.8)" fill="#fff" stroke-width="1.3"/>
<ellipse cx="631.5" cy="690.3" rx="2.2" ry="3.0" transform="rotate(30 631.5 690.3)" stroke-width="0.8"/>
<path d="M450.7,706.8 L454,695.5 L474.5,665.9 Q480,659 485.9,655.7 Q492,651 499.5,650 L517.7,648.9 Q530,649 538.2,652.3 L551.8,659.5 Q557,663 561,668.2 L566,680 L580,700 L590,720 L575,770 L540,786 L518,781 L492,748 L478,731.8 L451.8,715.9 Z" fill="#fff" stroke="none"/>
<path d="M451.8,715.9 L450.7,706.8 L454,695.5 L474.5,665.9 Q480,659 485.9,655.7 Q492,651 499.5,650 L517.7,648.9 Q530,649 538.2,652.3 L551.8,659.5 Q557,663 561,668.2 L566,680" fill="none" stroke-width="1.3"/>
<path d="M459.8,705.7 L481.4,675 Q489,664 497.3,659 Q505,655 515.5,654.5 L538.2,656.8" fill="none" stroke-width="1.0"/>
<path d="M451.8,711.4 L476.8,727.3" stroke-width="0.9"/>
<path d="M451.8,715.9 L478.0,731.8" stroke-width="1.3"/>
<ellipse cx="470.0" cy="711.4" rx="3.8" ry="6.0" transform="rotate(25 470.0 711.4)" fill="#fff" stroke-width="1.2"/>
<path d="M466.4,716.0 L466.2,715.6 L466.0,715.1 L465.9,714.6 L465.8,714.1 L465.7,713.6 L465.7,713.0 L465.8,712.4 L465.9,711.8 L466.1,711.1 L466.3,710.5 L466.5,709.9 L466.8,709.3 L467.1,708.8 L467.5,708.2 L467.9,707.7 L468.3,707.3 L468.7,706.9 L469.2,706.5 L469.6,706.3 L470.1,706.0 L470.6,705.9 L471.0,705.8 L471.5,705.7 L471.9,705.8" stroke-width="2.2"/>
<path d="M481.4,689.8 L490.5,685.2 L504,695.5 L507,702 L506,730 L497,739 L481.4,731.8 Z" fill="#fff" stroke-width="1.3"/>
<path d="M481.4,689.8 L495.0,700.0 L504.0,695.5" stroke-width="1.0"/>
<path d="M495.0,700.0 L495.0,712.0" stroke-width="0.9"/>
<path d="M484.0,694.0 L492.0,698.0 L486.0,706.0Z" fill="none" stroke-width="0.8"/>
<ellipse cx="488.2" cy="722.7" rx="4.8" ry="6.0" transform="rotate(20 488.2 722.7)" fill="#fff" stroke-width="1.3"/>
<ellipse cx="488.6" cy="723.2" rx="2.6" ry="3.6" transform="rotate(20 488.6 723.2)" stroke-width="0.8"/>
<path d="M496.9,683.6 L509.5,674.9 L511.6,678.2 L502.9,690.2 L497.5,688.0Z" fill="#fff" stroke-width="1.2"/>
<path d="M497.5,688 Q495,684 499,682" fill="none" stroke-width="0.9"/>
<path d="M512.0,657.5 L522.0,657.5 L522.0,666.0 L512.0,666.0Z" fill="#fff"/>
<ellipse cx="517.0" cy="666.0" rx="5.0" ry="2.8" fill="#fff"/>
<ellipse cx="517.0" cy="657.5" rx="5.0" ry="2.8" fill="#fff" stroke-width="1.3"/>
<ellipse cx="517.0" cy="657.5" rx="2.8" ry="1.5" stroke-width="0.9"/>
<path d="M512.7,667.3 L518.2,676 L525.8,680.4 L535.6,678.2 L541,671.6 L539,665 L531.3,662.4 L521.5,664 Z" fill="#fff" stroke-width="1.2"/>
<ellipse cx="530.2" cy="669.5" rx="9.5" ry="5.2" fill="#fff" stroke-width="1.4"/>
<ellipse cx="530.4" cy="670.0" rx="6.5" ry="3.5" stroke-width="1.3"/>
<path d="M523.9,670.0 L524.0,669.5 L524.1,669.1 L524.4,668.7 L524.8,668.2 L525.2,667.9 L525.8,667.5 L526.4,667.2 L527.1,667.0 L527.9,666.8 L528.7,666.6 L529.6,666.5 L530.4,666.5 L531.2,666.5 L532.1,666.6 L532.9,666.8 L533.6,667.0 L534.4,667.2 L535.0,667.5 L535.6,667.9 L536.0,668.2 L536.4,668.7 L536.7,669.1 L536.8,669.5 L536.9,670.0" stroke-width="2.2"/>
<path d="M549.8,662.9 L560.7,667.3 Q564,671 564,677" fill="none" stroke-width="1.2"/>
<path d="M541.0,671.6 L566.0,684.0" stroke-width="1.0"/>
<path d="M535.6,679.3 L578.2,696.7 L574.9,701.1 L534.5,682.5Z" fill="#fff" stroke-width="1.2"/>
<path d="M536.0,677.0 L577.0,694.0" stroke-width="0.8"/>
<path d="M529,704.5 Q524,716 538.2,736.4" fill="none"/>
<path d="M548,690 Q556,694 566,700" fill="none" stroke-width="0.9"/>
<path d="M553,712 Q548,722 552,735" fill="none" stroke-width="0.9"/>
<path d="M508.4,694.5 L510.5,691.3 L531.3,682 L545.5,691.3 L534.5,701 L514.9,704.4 Q509,703 508.4,694.5 Z" fill="#fff" stroke-width="1.3"/>
<ellipse cx="520.9" cy="696.7" rx="7.9" ry="3.8" fill="#fff" stroke-width="1.3"/>
<ellipse cx="521.0" cy="697.0" rx="5.5" ry="2.5" stroke-width="1.2"/>
<path d="M518.2,705.5 L518.2,716.4 L527.0,718.5" stroke-width="1.0"/>
<path d="M538.9,696.7 L531.3,714.2 L527.0,718.5" stroke-width="1.0"/>
<path d="M497,721 Q503,713 510,720 L514,736 Q514,746 505,745 L497,738 Z" fill="#fff" stroke-width="1.3"/>
<ellipse cx="504.0" cy="730.7" rx="4.6" ry="6.2" transform="rotate(25 504.0 730.7)" fill="#fff" stroke-width="1.3"/>
<ellipse cx="504.4" cy="731.2" rx="2.2" ry="3.6" transform="rotate(25 504.4 731.2)" stroke-width="0.8"/>
<path d="M492.7,741 L505,744 L510.9,756.8 L517.7,777.3 L538.2,781.8 L556.4,776 L565,768 L556.4,756.8 L565.5,745.5 L561,729.5 L542.7,736.4 L530,742 L514,738 Z" fill="#fff" stroke-width="1.3"/>
<path d="M505.0,744.0 L514.0,738.0" stroke-width="0.9"/>
<path d="M510.9,756.8 L530.0,752.0 L542.7,745.0" stroke-width="0.9"/>
<path d="M514,755 Q522,749 532,754" fill="none" stroke-width="0.9"/>
<path d="M542.7,736.4 L547.3,745.0 L565.5,745.5" stroke-width="0.9"/>
<ellipse cx="520.0" cy="768.2" rx="5.5" ry="6.5" transform="rotate(20 520.0 768.2)" fill="#fff" stroke-width="1.3"/>
<ellipse cx="520.5" cy="768.6" rx="2.5" ry="3.6" transform="rotate(20 520.5 768.6)" stroke-width="0.8"/>
<ellipse cx="547.3" cy="752.3" rx="4.6" ry="5.5" transform="rotate(20 547.3 752.3)" fill="#fff" stroke-width="1.2"/>
<ellipse cx="547.6" cy="752.6" rx="2.2" ry="3.0" transform="rotate(20 547.6 752.6)" stroke-width="0.8"/>
<path d="M582.7,691.7 Q590,693 598.6,699 L612.3,706.5 Q618,711 618.6,716 L619.7,727.6 Q626,732 625,738 Q624,745 615.4,750.8 L603.8,764.5 Q596,770 589,773 L572.2,776 Q566,778 560.6,775 Q556,770 559.5,764.5 L563.8,756 L572.2,724.4 L576.4,703.3 Q578,693 582.7,691.7 Z" fill="#fff" stroke-width="1.4"/>
<path d="M585,697 L610,710 Q615,714 615,720 L616,730 Q620,736 617,742 L601,760 L573,771 Q565,772 564,766 L576,710 Q579,699 585,697 Z" fill="none" stroke-width="0.8"/>
<ellipse cx="592.2" cy="738.1" rx="22.0" ry="27.4" transform="rotate(22 592.2 738.1)" fill="#fff" stroke-width="1.2"/>
<path d="M569.5,739.0 L569.9,736.5 L570.4,734.0 L571.2,731.5 L572.1,729.1 L573.2,726.8 L574.5,724.6 L575.9,722.4 L577.5,720.5 L579.3,718.7 L581.1,717.0 L583.0,715.6 L585.0,714.3 L587.1,713.3 L589.2,712.5 L591.4,711.9 L593.5,711.5 L595.7,711.4 L597.8,711.5 L599.9,711.9 L601.9,712.5 L603.8,713.3 L605.6,714.3 L607.3,715.6 L608.8,717.0" stroke-width="3.4"/>
<ellipse cx="594.0" cy="740.0" rx="18.5" ry="24.0" transform="rotate(22 594.0 740.0)" stroke-width="0.8"/>
<path d="M598.5,723.0 L598.5,723.6 L598.3,724.1 L598.1,724.7 L597.8,725.1 L597.4,725.5 L597.0,725.8 L596.5,725.9 L596.0,726.0 L595.5,725.9 L595.0,725.8 L594.6,725.5 L594.2,725.1 L593.9,724.7 L593.7,724.1 L593.5,723.6 L593.5,723.0 L593.5,722.4 L593.7,721.9 L593.9,721.3 L594.2,720.9 L594.6,720.5 L595.0,720.2 L595.5,720.1 L596.0,720.0" stroke-width="0.9"/>
<ellipse cx="592.2" cy="705.4" rx="4.5" ry="5.0" transform="rotate(25 592.2 705.4)" fill="#fff" stroke-width="1.3"/>
<ellipse cx="592.5" cy="705.8" rx="2.0" ry="2.8" transform="rotate(25 592.5 705.8)" stroke-width="0.8"/>
<ellipse cx="619.7" cy="739.2" rx="4.5" ry="5.0" transform="rotate(25 619.7 739.2)" fill="#fff" stroke-width="1.3"/>
<ellipse cx="620.0" cy="739.5" rx="2.0" ry="2.8" transform="rotate(25 620.0 739.5)" stroke-width="0.8"/>
<ellipse cx="565.3" cy="767.6" rx="4.5" ry="5.0" transform="rotate(25 565.3 767.6)" fill="#fff" stroke-width="1.3"/>
<ellipse cx="565.6" cy="768.0" rx="2.0" ry="2.8" transform="rotate(25 565.6 768.0)" stroke-width="0.8"/>
<path d="M566.0,678.0 L576.5,678.0 L576.5,689.0 L566.0,689.0Z" fill="#fff"/>
<ellipse cx="571.2" cy="689.0" rx="5.2" ry="2.6" fill="#fff"/>
<ellipse cx="571.2" cy="678.0" rx="5.2" ry="2.6" fill="#fff"/>
<ellipse cx="571.2" cy="678.0" rx="2.6" ry="1.3" stroke-width="0.8"/>
<path d="M558.0,715.0 L567.0,710.0 L570.0,717.0 L561.0,723.0Z" fill="#fff" stroke-width="1.0"/>
<ellipse cx="599.6" cy="775.8" rx="1.5" ry="3.2" transform="rotate(34.28687697720896 599.6 775.8)" stroke-width="0.9"/>
<ellipse cx="601.8" cy="777.2" rx="1.5" ry="3.2" transform="rotate(34.28687697720896 601.8 777.2)" stroke-width="0.9"/>
<ellipse cx="604.0" cy="778.8" rx="1.5" ry="3.2" transform="rotate(34.28687697720896 604.0 778.8)" stroke-width="0.9"/>
<ellipse cx="606.2" cy="780.2" rx="1.5" ry="3.2" transform="rotate(34.28687697720896 606.2 780.2)" stroke-width="0.9"/>
<ellipse cx="608.4" cy="781.8" rx="1.5" ry="3.2" transform="rotate(34.28687697720896 608.4 781.8)" stroke-width="0.9"/>
<ellipse cx="615.4" cy="785.6" rx="2.5" ry="2.5" fill="#fff" stroke-width="1.0"/>
<path d="M258.4,861.8 L337.6,814.6 L333.2,807.4 L254.0,854.6Z" fill="#fff"/>
<ellipse cx="335.4" cy="811.0" rx="1.9" ry="4.2" transform="rotate(-30.793233882239665 335.4 811.0)" fill="#fff"/>
<path d="M270.0,845.0 L330.0,811.0" stroke-width="0.7"/>
<path d="M292.0,831.0 L296.0,833.0 L297.0,829.0Z" fill="#fff"/>
<ellipse cx="313.0" cy="836.0" rx="1.2" ry="1.2" stroke-width="0.8"/>
<ellipse cx="278.0" cy="852.0" rx="1.2" ry="1.2" stroke-width="0.8"/>
<path d="M236,831 Q234,825 240,823 L250,820 Q256,826 254,836 L264,880 L276.3,886 Q279,892 274,895 L262,897 Q258,897 257,892 L240,845 Q236,838 236,831 Z" fill="#fff" stroke-width="1.3"/>
<path d="M250.0,828.0 L268.0,888.0" stroke-width="0.8"/>
<ellipse cx="248.5" cy="866.0" rx="4.0" ry="5.0" transform="rotate(-20 248.5 866.0)" fill="#fff" stroke-width="1.2"/>
<ellipse cx="268.0" cy="891.0" rx="3.0" ry="2.0" stroke-width="0.9"/>
<path d="M245.6,831.5 L259.6,826.5 L256.4,817.5 L242.4,822.5Z" fill="#fff"/>
<ellipse cx="258.0" cy="822.0" rx="2.2" ry="4.8" transform="rotate(-19.65382405805331 258.0 822.0)" fill="#fff"/>
<ellipse cx="231.5" cy="833.0" rx="2.5" ry="2.5" fill="#fff"/>
<ellipse cx="244.4" cy="805.0" rx="4.5" ry="3.5" fill="#fff"/>
<path d="M242.2,808.0 L242.2,815.6 L246.6,815.6 L246.6,808.0Z" fill="#fff"/>
<path d="M246.6,810.5 L246.4,810.9 L246.0,811.2 L245.2,811.4 L244.4,811.5 L243.6,811.4 L242.8,811.2 L242.4,810.9 L242.2,810.5" stroke-width="0.8"/>
<path d="M246.6,813.1 L246.4,813.4 L246.0,813.8 L245.2,814.0 L244.4,814.1 L243.6,814.0 L242.8,813.8 L242.4,813.4 L242.2,813.1" stroke-width="0.8"/>
<path d="M247.0,817.0 L247.0,823.0" stroke-width="0.9"/>
<path d="M204,826 Q206,822 209,826 L211,846 L207.5,846 Z" fill="#fff" stroke-width="1.0"/>
<ellipse cx="220.7" cy="847.6" rx="6.5" ry="8.5" transform="rotate(20 220.7 847.6)" fill="#fff" stroke-width="1.3"/>
<ellipse cx="221.0" cy="848.0" rx="2.5" ry="3.5" transform="rotate(20 221.0 848.0)" stroke-width="0.8"/>
<ellipse cx="343.6" cy="805.5" rx="3.1" ry="7.5" transform="rotate(-21.96056402009647 343.6 805.5)" stroke-width="1.3"/>
<ellipse cx="348.8" cy="803.4" rx="3.1" ry="7.5" transform="rotate(-21.96056402009647 348.8 803.4)" stroke-width="1.3"/>
<ellipse cx="353.9" cy="801.3" rx="3.1" ry="7.5" transform="rotate(-21.96056402009647 353.9 801.3)" stroke-width="1.3"/>
<ellipse cx="359.1" cy="799.2" rx="3.1" ry="7.5" transform="rotate(-21.96056402009647 359.1 799.2)" stroke-width="1.3"/>
<ellipse cx="364.2" cy="797.1" rx="3.1" ry="7.5" transform="rotate(-21.96056402009647 364.2 797.1)" stroke-width="1.3"/>
<ellipse cx="369.4" cy="795.0" rx="3.1" ry="7.5" transform="rotate(-21.96056402009647 369.4 795.0)" stroke-width="1.3"/>
<ellipse cx="379.0" cy="787.3" rx="6.5" ry="9.0" transform="rotate(30 379.0 787.3)" fill="#fff" stroke-width="1.3"/>
<ellipse cx="379.5" cy="788.0" rx="2.5" ry="4.2" transform="rotate(30 379.5 788.0)" stroke-width="0.9"/>
<path d="M375.2,781.6 L375.8,781.0 L376.5,780.5 L377.1,780.1 L377.8,779.7 L378.5,779.4 L379.1,779.1 L379.8,779.0 L380.5,778.9 L381.2,778.9 L381.8,778.9 L382.4,779.0 L383.0,779.3 L383.5,779.5 L384.0,779.9 L384.5,780.3 L384.9,780.8 L385.3,781.3 L385.6,781.9 L385.8,782.5 L386.0,783.2 L386.1,783.9 L386.2,784.7 L386.2,785.4 L386.1,786.2" stroke-width="2"/>
<ellipse cx="391.0" cy="780.2" rx="4.5" ry="6.0" transform="rotate(30 391.0 780.2)" fill="#fff" stroke-width="1.3"/>
<ellipse cx="391.3" cy="780.5" rx="1.8" ry="3.0" transform="rotate(30 391.3 780.5)" stroke-width="0.8"/>
<path d="M392,818 Q390,806 397,798 L405,790 L410,795 L402,803 Q397,810 398,818 Z" fill="#fff"/>
<ellipse cx="395.0" cy="819.0" rx="4.5" ry="3.5" fill="#fff"/>
<ellipse cx="395.0" cy="820.0" rx="1.3" ry="1.3" stroke-width="0.8"/>
<path d="M415.6,794.2 L410.0,797.5 L404.4,794.2 L404.4,787.8 L410.0,784.5 L415.6,787.8Z" fill="#fff"/>
<path d="M416.2,793.0 L426.2,788.2 L421.8,779.2 L411.8,784.0Z" fill="#fff"/>
<ellipse cx="424.0" cy="783.7" rx="2.2" ry="5.0" transform="rotate(-25.641005824305072 424.0 783.7)" fill="#fff"/>
<path d="M414.3,782.8 L415.3,782.8 L416.4,783.4 L417.5,784.7 L418.5,786.3 L419.2,788.1 L419.5,789.8 L419.3,791.1 L418.7,791.8" stroke-width="0.8"/>
<path d="M416.8,781.6 L417.8,781.6 L418.9,782.2 L420.0,783.5 L421.0,785.1 L421.7,786.9 L422.0,788.6 L421.8,789.9 L421.2,790.6" stroke-width="0.8"/>
<path d="M419.3,780.4 L420.3,780.4 L421.4,781.0 L422.5,782.3 L423.5,783.9 L424.2,785.7 L424.5,787.4 L424.3,788.7 L423.7,789.4" stroke-width="0.8"/>
<path d="M432,766 Q435,760 441,762 L446,772 Q443,779 437,777 Z" fill="#fff"/>
<ellipse cx="443.5" cy="766.0" rx="4.0" ry="6.0" transform="rotate(-30 443.5 766.0)" fill="#fff"/>
<path d="M396.8,775.5 L478.0,729.7" stroke-dasharray="13,3"/>
<path d="M447.0,767.0 L497.0,738.0" stroke-dasharray="13,3"/>
<path d="M502.2,779.2 L511.7,774.0" stroke-dasharray="6,3"/>
<ellipse cx="265.5" cy="904.2" rx="2.4" ry="7.8" transform="rotate(90.0 265.5 904.2)" stroke-width="1.3"/>
<ellipse cx="265.5" cy="908.6" rx="2.4" ry="7.8" transform="rotate(90.0 265.5 908.6)" stroke-width="1.3"/>
<ellipse cx="265.5" cy="913.0" rx="2.4" ry="7.8" transform="rotate(90.0 265.5 913.0)" stroke-width="1.3"/>
<ellipse cx="265.5" cy="917.4" rx="2.4" ry="7.8" transform="rotate(90.0 265.5 917.4)" stroke-width="1.3"/>
<ellipse cx="265.5" cy="921.7" rx="2.4" ry="7.8" transform="rotate(90.0 265.5 921.7)" stroke-width="1.3"/>
<ellipse cx="265.5" cy="926.1" rx="2.4" ry="7.8" transform="rotate(90.0 265.5 926.1)" stroke-width="1.3"/>
<ellipse cx="265.5" cy="930.5" rx="2.4" ry="7.8" transform="rotate(90.0 265.5 930.5)" stroke-width="1.3"/>
<ellipse cx="265.5" cy="902.0" rx="7.8" ry="2.8" stroke-width="1.1"/>
<path d="M258.0,940.0 L273.5,940.0 L273.5,943.0 L258.0,943.0Z" fill="#fff"/>
<ellipse cx="265.8" cy="943.0" rx="7.7" ry="3.8" fill="#fff"/>
<ellipse cx="265.8" cy="940.0" rx="7.7" ry="3.8" fill="#fff"/>
<ellipse cx="265.8" cy="940.0" rx="3.0" ry="1.5" stroke-width="0.8"/>
<path d="M258.3,955.5 L273.3,955.5 L273.3,969.0 L258.3,969.0Z" fill="#fff"/>
<ellipse cx="265.8" cy="969.0" rx="7.5" ry="3.5" fill="#fff"/>
<ellipse cx="265.8" cy="955.5" rx="7.5" ry="3.5" fill="#fff"/>
<ellipse cx="265.8" cy="955.8" rx="4.0" ry="1.8" stroke-width="0.8"/>
<path d="M262.5,982.7 L262.5,1004.0 L268.5,1004.0 L268.5,982.7Z" fill="#fff"/>
<path d="M268.5,985.7 L268.3,986.3 L267.6,986.7 L266.6,987.0 L265.5,987.1 L264.4,987.0 L263.4,986.7 L262.7,986.3 L262.5,985.7" stroke-width="0.8"/>
<path d="M268.5,988.8 L268.3,989.3 L267.6,989.7 L266.6,990.0 L265.5,990.1 L264.4,990.0 L263.4,989.7 L262.7,989.3 L262.5,988.8" stroke-width="0.8"/>
<path d="M268.5,991.8 L268.3,992.3 L267.6,992.8 L266.6,993.1 L265.5,993.2 L264.4,993.1 L263.4,992.8 L262.7,992.3 L262.5,991.8" stroke-width="0.8"/>
<path d="M268.5,994.9 L268.3,995.4 L267.6,995.8 L266.6,996.1 L265.5,996.2 L264.4,996.1 L263.4,995.8 L262.7,995.4 L262.5,994.9" stroke-width="0.8"/>
<path d="M268.5,997.9 L268.3,998.4 L267.6,998.9 L266.6,999.2 L265.5,999.3 L264.4,999.2 L263.4,998.9 L262.7,998.4 L262.5,997.9" stroke-width="0.8"/>
<path d="M268.5,1001.0 L268.3,1001.5 L267.6,1001.9 L266.6,1002.2 L265.5,1002.3 L264.4,1002.2 L263.4,1001.9 L262.7,1001.5 L262.5,1001.0" stroke-width="0.8"/>
<ellipse cx="265.5" cy="982.7" rx="3.0" ry="1.5" fill="#fff"/>
<ellipse cx="265.0" cy="1007.3" rx="6.5" ry="4.2" fill="#fff"/>
<path d="M262.0,1010.0 L268.0,1005.0" stroke-width="0.8"/>
<path d="M339.3,942.3 L357.3,933.8 L352.7,924.2 L334.7,932.7Z" fill="#fff"/>
<ellipse cx="355.0" cy="929.0" rx="2.4" ry="5.3" transform="rotate(-25.27772223555295 355.0 929.0)" fill="#fff"/>
<ellipse cx="337.0" cy="937.5" rx="2.6" ry="5.3" transform="rotate(-25 337.0 937.5)" fill="#fff"/>
<path d="M349.0,931.0 L353.0,938.0" stroke-width="0.8"/>
<path d="M355.0,926.5 L372.0,912.0 L374.0,915.5 L358.0,931.5Z" fill="#fff"/>
<path d="M358.0,928.5 L360.5,932.0" stroke-width="0.8"/>
<path d="M360.3,926.4 L362.8,929.9" stroke-width="0.8"/>
<path d="M362.7,924.3 L365.2,927.8" stroke-width="0.8"/>
<path d="M365.0,922.2 L367.5,925.8" stroke-width="0.8"/>
<path d="M367.3,920.2 L369.8,923.7" stroke-width="0.8"/>
<path d="M369.7,918.1 L372.2,921.6" stroke-width="0.8"/>
<path d="M372.0,912.0 L388.0,898.0 L374.0,915.5Z" fill="#fff"/>
<path d="M335.5,920.0 L350.0,945.5" stroke-width="2.6"/>
<path d="M406.9,893.1 L401.4,898.0 L393.0,896.9 L390.1,890.9 L395.6,886.0 L404.0,887.1Z" fill="#fff"/>
<path d="M404.0,896.9 L416.0,889.9 L408.0,876.1 L396.0,883.1Z" fill="#fff"/>
<ellipse cx="412.0" cy="883.0" rx="3.6" ry="8.0" transform="rotate(-30.256437163529263 412.0 883.0)" fill="#fff"/>
<path d="M398.4,881.7 L399.9,881.5 L401.7,882.4 L403.7,884.3 L405.5,886.8 L406.8,889.6 L407.4,892.2 L407.3,894.3 L406.4,895.5" stroke-width="0.8"/>
<path d="M400.8,880.3 L402.3,880.1 L404.1,881.0 L406.1,882.9 L407.9,885.4 L409.2,888.2 L409.8,890.8 L409.7,892.9 L408.8,894.1" stroke-width="0.8"/>
<path d="M403.2,878.9 L404.7,878.7 L406.5,879.6 L408.5,881.5 L410.3,884.0 L411.6,886.8 L412.2,889.4 L412.1,891.5 L411.2,892.7" stroke-width="0.8"/>
<path d="M405.6,877.5 L407.1,877.3 L408.9,878.2 L410.9,880.1 L412.7,882.6 L414.0,885.4 L414.6,888.0 L414.5,890.1 L413.6,891.3" stroke-width="0.8"/>
<ellipse cx="412.0" cy="883.0" rx="3.5" ry="8.0" transform="rotate(-30 412.0 883.0)" fill="#fff"/>
<path d="M410.0,881.0 L414.0,885.0" stroke-width="0.8"/>
<path d="M354.5,940.0 L358.2,946.4 L414.5,904.5 L411.0,897.3"/>
<ellipse cx="496.7" cy="783.0" rx="4.5" ry="5.5" transform="rotate(30 496.7 783.0)" fill="#fff" stroke-width="1.3"/>
<ellipse cx="497.0" cy="783.3" rx="1.8" ry="2.5" transform="rotate(30 497.0 783.3)" stroke-width="0.8"/>
<ellipse cx="452.1" cy="807.5" rx="1.8" ry="7.0" transform="rotate(-17.87869659584134 452.1 807.5)" stroke-width="1.0"/>
<ellipse cx="455.1" cy="806.5" rx="1.8" ry="7.0" transform="rotate(-17.87869659584134 455.1 806.5)" stroke-width="1.0"/>
<ellipse cx="458.2" cy="805.5" rx="1.8" ry="7.0" transform="rotate(-17.87869659584134 458.2 805.5)" stroke-width="1.0"/>
<ellipse cx="461.4" cy="804.5" rx="1.8" ry="7.0" transform="rotate(-17.87869659584134 461.4 804.5)" stroke-width="1.0"/>
<ellipse cx="464.4" cy="803.5" rx="1.8" ry="7.0" transform="rotate(-17.87869659584134 464.4 803.5)" stroke-width="1.0"/>
<ellipse cx="475.6" cy="794.0" rx="5.5" ry="5.0" transform="rotate(30 475.6 794.0)" fill="#fff"/>
<path d="M478.9,795.1 L488.9,792.1 L487.1,785.9 L477.1,788.9Z" fill="#fff"/>
<path d="M479.6,788.2 L480.2,788.3 L480.8,788.8 L481.4,789.7 L481.9,790.8 L482.1,792.0 L482.1,793.1 L481.9,793.9 L481.4,794.3" stroke-width="0.8"/>
<path d="M482.1,787.4 L482.7,787.5 L483.3,788.0 L483.9,788.9 L484.4,790.1 L484.6,791.3 L484.6,792.4 L484.4,793.2 L483.9,793.6" stroke-width="0.8"/>
<path d="M484.6,786.7 L485.2,786.8 L485.8,787.3 L486.4,788.2 L486.9,789.3 L487.1,790.5 L487.1,791.6 L486.9,792.4 L486.4,792.8" stroke-width="0.8"/>
<path d="M476.0,791.0 L480.0,797.0" stroke-width="0.8"/>
<path d="M467.0,803.0 L471.0,799.0" stroke-width="0.9"/>
<path d="M519,793 Q522,787 529,789 L533,798 Q530,803 524,801 Z" fill="#fff"/>
<ellipse cx="529.5" cy="793.5" rx="5.0" ry="6.0" transform="rotate(-30 529.5 793.5)" fill="#fff"/>
<ellipse cx="547.0" cy="793.3" rx="2.2" ry="2.2" stroke-width="1.0"/>
<ellipse cx="547.0" cy="802.7" rx="4.5" ry="3.0" fill="#fff"/>
<path d="M553.0,822.0 L563.0,822.0 L563.0,834.0 L553.0,834.0Z" fill="#fff"/>
<ellipse cx="558.0" cy="822.0" rx="5.0" ry="2.5" fill="#fff"/>
<path d="M555.0,834.0 L561.0,834.0 L561.0,841.0 L555.0,841.0Z" fill="#fff"/>
<ellipse cx="558.0" cy="841.0" rx="3.0" ry="1.5" fill="#fff"/>
<path d="M557.0,774.4 L557.0,818.0"/>
<path d="M549.3,850.0 L566.3,850.0 L566.3,853.0 L549.3,853.0Z" fill="#fff"/>
<ellipse cx="557.8" cy="853.0" rx="8.5" ry="5.0" fill="#fff"/>
<ellipse cx="557.8" cy="850.0" rx="8.5" ry="5.0" fill="#fff"/>
<ellipse cx="519.3" cy="831.0" rx="6.5" ry="4.0" fill="#fff" stroke-width="1.3"/>
<ellipse cx="519.3" cy="831.0" rx="3.5" ry="2.0" stroke-width="0.9"/>
<path d="M514.0,841.0 L526.0,841.0 L527.0,860.0 L513.0,860.0Z" fill="#fff"/>
<ellipse cx="520.0" cy="841.0" rx="5.5" ry="2.5" fill="#fff"/>
<ellipse cx="520.0" cy="841.0" rx="2.5" ry="1.2" stroke-width="0.7"/>
<path d="M513.5,845.0 L526.5,845.0" stroke-width="0.8"/>
<path d="M513.5,848.0 L526.5,848.0" stroke-width="0.8"/>
<path d="M513.5,851.0 L526.5,851.0" stroke-width="0.8"/>
<path d="M513.5,854.0 L526.5,854.0" stroke-width="0.8"/>
<path d="M513.5,857.0 L526.5,857.0" stroke-width="0.8"/>
<path d="M528.5,863.0 L524.2,866.3 L515.8,866.3 L511.5,863.0 L515.8,859.7 L524.2,859.7Z" fill="#fff"/>
<path d="M517.0,864.0 L523.0,864.0 L523.0,873.0 L517.0,873.0Z" fill="#fff"/>
<path d="M517.0,868.0 L523.0,868.0" stroke-width="0.7"/>
<path d="M520.0,875.0 L520.0,900.0" stroke-dasharray="12,3"/>
<ellipse cx="531.0" cy="881.9" rx="1.6" ry="3.0" transform="rotate(90.0 531.0 881.9)" stroke-width="0.9"/>
<ellipse cx="531.0" cy="884.8" rx="1.6" ry="3.0" transform="rotate(90.0 531.0 884.8)" stroke-width="0.9"/>
<ellipse cx="531.0" cy="887.7" rx="1.6" ry="3.0" transform="rotate(90.0 531.0 887.7)" stroke-width="0.9"/>
<ellipse cx="531.0" cy="890.6" rx="1.6" ry="3.0" transform="rotate(90.0 531.0 890.6)" stroke-width="0.9"/>
<path d="M531.4,895.4 L531.4,906.0"/>
<path d="M490.7,889.2 L509.7,900.7 L512.3,896.3 L493.3,884.8Z" fill="#fff"/>
<ellipse cx="511.0" cy="898.5" rx="1.2" ry="2.6" transform="rotate(31.184974658738387 511.0 898.5)" fill="#fff"/>
<ellipse cx="492.0" cy="887.0" rx="1.3" ry="2.6" transform="rotate(31 492.0 887.0)" fill="#fff"/>
<path d="M495.5,906.0 L499.5,906.0 L499.5,914.0 L495.5,914.0Z" fill="#fff"/>
<path d="M492,914 L503,914 L500,918 L495,918 Z" fill="#fff"/>
<path d="M516.0,908.0 L530.0,902.0 L533.0,909.0 L519.0,914.0Z" fill="#fff"/>
<ellipse cx="523.0" cy="906.0" rx="4.0" ry="4.0" fill="#fff"/>
<path d="M531.0,907.0 L541.0,901.0 L543.5,904.0 L533.0,911.0Z" fill="#fff"/>
<ellipse cx="532.0" cy="909.0" rx="3.5" ry="3.5" fill="#fff"/>
<path d="M520.0,902.0 L530.0,898.0" stroke-width="0.8"/>
<path d="M539.6,763.0 L539.6,922.0" stroke-width="1.0" stroke-dasharray="16,3,2,3"/>
<path d="M681,797.5 C684,787 690,778 700,771 C707,767 714,766 719.4,768.2 Q723,770 723,773.7 L714,781 L704,788 L690,794 Z" fill="#fff" stroke-width="1.3"/>
<path d="M683,795 C687,786 694,777 704,771" fill="none" stroke-width="0.8"/>
<path d="M681,797.5 L683,799.5 L694,793" fill="none"/>
<path d="M694.1,804.3 L702.1,800.3 L697.9,791.7 L689.9,795.7Z" fill="#fff"/>
<ellipse cx="700.0" cy="796.0" rx="2.2" ry="4.8" transform="rotate(-26.56505117707799 700.0 796.0)" fill="#fff"/>
<ellipse cx="692.5" cy="800.5" rx="4.0" ry="4.0" fill="#fff"/>
<ellipse cx="692.5" cy="800.5" rx="2.0" ry="2.5" stroke-width="0.9"/>
<path d="M706.1,797.3 L714.1,793.3 L709.9,784.7 L701.9,788.7Z" fill="#fff"/>
<ellipse cx="712.0" cy="789.0" rx="2.2" ry="4.8" transform="rotate(-26.56505117707799 712.0 789.0)" fill="#fff"/>
<ellipse cx="704.5" cy="793.0" rx="4.0" ry="4.0" fill="#fff"/>
<ellipse cx="704.5" cy="793.3" rx="2.0" ry="2.5" stroke-width="0.9"/>
<ellipse cx="698.5" cy="816.3" rx="1.7" ry="6.5" transform="rotate(-7.125016348901798 698.5 816.3)" stroke-width="0.9"/>
<ellipse cx="701.5" cy="815.9" rx="1.7" ry="6.5" transform="rotate(-7.125016348901798 701.5 815.9)" stroke-width="0.9"/>
<ellipse cx="704.5" cy="815.6" rx="1.7" ry="6.5" transform="rotate(-7.125016348901798 704.5 815.6)" stroke-width="0.9"/>
<ellipse cx="707.5" cy="815.2" rx="1.7" ry="6.5" transform="rotate(-7.125016348901798 707.5 815.2)" stroke-width="0.9"/>
<path d="M709.0,817.0 L716.8,819.0" stroke-width="0.9"/>
<path d="M680,845 L692.4,837.8 L694.7,851.5 L714,839.6 L713,825.9 L724,819.5 L726.3,822.2 C726,840 712,860 693.8,867 C682,866 678,857 680,845 Z" fill="#fff" stroke-width="1.3"/>
<path d="M694.7,851.5 L696.0,855.0 L715.0,843.0 L714.0,839.6" stroke-width="0.8"/>
<ellipse cx="689.0" cy="849.0" rx="1.5" ry="2.0" stroke-width="0.9"/>
<ellipse cx="718.0" cy="831.0" rx="1.5" ry="2.0" stroke-width="0.9"/>
<path d="M727.4,876.6 L739.4,882.6 L742.6,876.4 L730.6,870.4Z" fill="#fff"/>
<path d="M733.0,871.6 L733.4,872.1 L733.5,873.0 L733.3,874.2 L732.8,875.4 L732.1,876.5 L731.3,877.4 L730.5,877.9 L729.8,877.8" stroke-width="0.8"/>
<path d="M735.4,872.8 L735.8,873.3 L735.9,874.2 L735.7,875.4 L735.2,876.6 L734.5,877.7 L733.7,878.6 L732.9,879.1 L732.2,879.0" stroke-width="0.8"/>
<path d="M737.8,874.0 L738.2,874.5 L738.3,875.4 L738.1,876.6 L737.6,877.8 L736.9,878.9 L736.1,879.8 L735.3,880.3 L734.6,880.2" stroke-width="0.8"/>
<path d="M740.2,875.2 L740.6,875.7 L740.7,876.6 L740.5,877.8 L740.0,879.0 L739.3,880.1 L738.5,881.0 L737.7,881.5 L737.0,881.4" stroke-width="0.8"/>
<ellipse cx="744.5" cy="880.8" rx="3.5" ry="5.0" transform="rotate(27 744.5 880.8)" fill="#fff" stroke-width="1.2"/>
<path d="M494.2,958.2 Q493,952 498,950.5 L508.4,936.4 Q509,931 510.5,931 L523.6,928.2 L551,927 L558.5,923.3 L572.7,924.4 Q577,926 577,928.7 L581.5,941.8 L585.8,950.5 L583.6,961.5 L587.5,973.5 L541,979.5 L512.7,975.6 L501.8,965.8 Q495,963 494.2,958.2 Z" fill="#fff" stroke-width="1.2"/>
<path d="M495,961 L502,967.5 L513,977.8 L541,981.5 L587.5,975.6" fill="none" stroke-width="0.9"/>
<ellipse cx="542.2" cy="953.8" rx="31.6" ry="17.5" fill="#fff" stroke-width="1.2"/>
<ellipse cx="542.2" cy="952.5" rx="31.0" ry="16.5" stroke-width="0.7"/>
<ellipse cx="502.7" cy="958.0" rx="3.5" ry="2.5" stroke-width="1.1"/>
<ellipse cx="504.0" cy="949.0" rx="2.5" ry="1.7" stroke-width="1.1"/>
<ellipse cx="514.0" cy="934.5" rx="3.0" ry="2.0" stroke-width="1.1"/>
<ellipse cx="525.0" cy="932.0" rx="2.0" ry="1.4" stroke-width="1.1"/>
<ellipse cx="534.0" cy="931.0" rx="2.5" ry="1.7" stroke-width="1.1"/>
<ellipse cx="575.0" cy="941.0" rx="2.5" ry="1.7" stroke-width="1.1"/>
<ellipse cx="580.0" cy="955.5" rx="2.5" ry="1.7" stroke-width="1.1"/>
<ellipse cx="521.0" cy="971.5" rx="2.5" ry="1.7" stroke-width="1.1"/>
<ellipse cx="555.0" cy="973.0" rx="2.5" ry="1.7" stroke-width="1.1"/>
<ellipse cx="562.0" cy="971.0" rx="2.0" ry="1.4" stroke-width="1.1"/>
<path d="M558.0,930.0 L566.0,927.0 L573.0,931.0 L565.0,934.0Z" fill="#fff"/>
<path d="M570,964 Q572,958 577,960 L581,966 L573,969 Z" fill="none"/>
<path d="M495.3,1018 Q493,1012 498,1010 L508.4,996 Q509,991 511,990.5 L523.6,988 L551,987 L559,983.8 L573,984.5 Q577,986 577,989 L581,996 L585,1004 Q588,1007 584,1010 L585,1020 L587.5,1031 L541,1039 L512.7,1035.5 L501.8,1026 Q495,1023 495.3,1018 Z" fill="#fff" stroke-width="1.2"/>
<path d="M496,1021 L502,1028 L513,1037.5 L541,1041 L587.5,1033" fill="none" stroke-width="0.9"/>
<ellipse cx="542.2" cy="1012.7" rx="29.7" ry="17.5" fill="#fff" stroke-width="1.2"/>
<ellipse cx="542.2" cy="1012.7" rx="26.0" ry="15.0" stroke-width="1.0"/>
<ellipse cx="542.2" cy="1012.7" rx="24.5" ry="14.0" stroke-width="0.7"/>
<ellipse cx="529.0" cy="1010.0" rx="6.0" ry="3.3" stroke-width="1.1"/>
<ellipse cx="556.0" cy="1009.0" rx="6.0" ry="3.3" stroke-width="1.1"/>
<ellipse cx="531.0" cy="1019.0" rx="6.0" ry="3.3" stroke-width="1.1"/>
<ellipse cx="547.0" cy="1019.0" rx="6.0" ry="3.3" stroke-width="1.1"/>
<ellipse cx="541.5" cy="1004.5" rx="5.0" ry="3.0" fill="#fff"/>
<path d="M539.0,1009.0 L544.0,1009.0 L544.0,1013.0 L539.0,1013.0Z" fill="#fff"/>
<ellipse cx="541.5" cy="1013.0" rx="2.5" ry="1.3" fill="#fff"/>
<ellipse cx="500.0" cy="1019.0" rx="4.0" ry="2.5" stroke-width="1.0"/>
<ellipse cx="503.0" cy="1006.0" rx="3.0" ry="2.0" stroke-width="1.0"/>
<ellipse cx="516.0" cy="992.5" rx="3.0" ry="2.0" stroke-width="1.0"/>
<ellipse cx="525.0" cy="990.5" rx="2.0" ry="1.5" stroke-width="1.0"/>
<ellipse cx="534.0" cy="990.0" rx="3.0" ry="2.0" stroke-width="1.0"/>
<ellipse cx="575.0" cy="996.0" rx="2.0" ry="1.4" stroke-width="1.0"/>
<ellipse cx="578.0" cy="1001.0" rx="2.5" ry="1.7" stroke-width="1.0"/>
<ellipse cx="579.0" cy="1018.5" rx="2.5" ry="1.7" stroke-width="1.0"/>
<ellipse cx="578.0" cy="1022.0" rx="2.0" ry="1.4" stroke-width="1.0"/>
<ellipse cx="521.0" cy="1032.0" rx="2.5" ry="1.7" stroke-width="1.0"/>
<ellipse cx="530.0" cy="1034.0" rx="2.0" ry="1.4" stroke-width="1.0"/>
<ellipse cx="556.0" cy="1034.0" rx="3.0" ry="1.7" stroke-width="1.0"/>
<ellipse cx="563.0" cy="1032.5" rx="2.0" ry="1.4" stroke-width="1.0"/>
<path d="M565.0,990.0 L565.1,989.5 L565.3,989.1 L565.6,988.6 L566.0,988.2 L566.5,987.8 L567.1,987.5 L567.8,987.3 L568.6,987.1 L569.3,987.0 L570.1,987.0 L570.9,987.1 L571.7,987.2 L572.4,987.4 L573.1,987.6 L573.7,988.0 L574.2,988.4 L574.6,988.8 L574.8,989.2 L575.0,989.7 L575.0,990.2 L574.9,990.6 L574.6,991.1 L574.3,991.5 L573.8,991.9" stroke-width="1.5"/>
<path d="M571.0,1030.0 L571.0,1029.6 L571.1,1029.1 L571.2,1028.7 L571.4,1028.3 L571.6,1027.9 L571.8,1027.6 L572.1,1027.2 L572.4,1026.9 L572.8,1026.7 L573.2,1026.5 L573.6,1026.3 L574.0,1026.1 L574.4,1026.0 L574.8,1026.0 L575.3,1026.0 L575.7,1026.1 L576.1,1026.2 L576.5,1026.3 L576.9,1026.5 L577.3,1026.7 L577.6,1027.0 L577.9,1027.3 L578.2,1027.6 L578.5,1028.0" stroke-width="1.5"/>
<path d="M498.7,1101 L498.7,1095.5 C499,1078 520,1068 541.3,1067 L545.6,1066 L566.4,1053.5 L570,1048 L590,1048 L592,1060 L593,1073 L590.5,1095 L586,1100 L590,1115 L590,1125 L580,1136 L573,1133 L568.5,1118 L542.4,1125 C520,1125 499,1115 498.7,1101 Z" fill="#fff" stroke-width="1.3"/>
<path d="M498.7,1095.5 C500,1112 520,1119 541,1119 L569,1113 L590.5,1110" fill="none" stroke-width="0.9"/>
<ellipse cx="542.4" cy="1092.2" rx="31.4" ry="18.0" fill="#fff" stroke-width="1.2"/>
<path d="M514.2,1086.6 L515.4,1085.0 L516.9,1083.5 L518.6,1082.2 L520.6,1080.9 L522.8,1079.7 L525.2,1078.7 L527.8,1077.8 L530.5,1077.0 L533.4,1076.5 L536.3,1076.0 L539.4,1075.8 L542.4,1075.7 L545.4,1075.8 L548.5,1076.0 L551.4,1076.5 L554.3,1077.0 L557.0,1077.8 L559.6,1078.7 L562.0,1079.7 L564.2,1080.9 L566.2,1082.2 L567.9,1083.5 L569.4,1085.0 L570.6,1086.6" stroke-width="0.7"/>
<ellipse cx="579.5" cy="1048.0" rx="11.0" ry="6.0" fill="#fff" stroke-width="1.3"/>
<ellipse cx="579.5" cy="1048.5" rx="7.0" ry="3.8" stroke-width="1.0"/>
<path d="M568.5,1048.0 L568.5,1060.0"/>
<path d="M590.5,1048.0 L590.5,1060.0"/>
<path d="M568.5,1060 Q579.5,1067 590.5,1060" fill="none"/>
<path d="M580.0,1068.0 L590.0,1095.0" stroke-width="0.9"/>
<ellipse cx="580.5" cy="1127.0" rx="6.0" ry="6.0" fill="#fff" stroke-width="1.2"/>
<ellipse cx="581.0" cy="1127.5" rx="3.0" ry="3.0" stroke-width="1.0"/>
<ellipse cx="542.4" cy="1094.5" rx="7.5" ry="4.5" fill="#fff"/>
<ellipse cx="542.4" cy="1094.5" rx="1.5" ry="1.5" stroke-width="0.9"/>
<path d="M534.5,1093.0 L523.0,1085.5 L547.0,1075.0" stroke-width="0.9"/>
<path d="M536.0,1091.0 L526.0,1086.0 L549.0,1076.5" stroke-width="0.9"/>
<path d="M548.0,1098.0 L560.0,1106.0" stroke-width="0.9"/>
<path d="M545.0,1099.0 L556.0,1107.0" stroke-width="0.9"/>
<ellipse cx="505.0" cy="1087.0" rx="2.0" ry="1.7" stroke-width="1.0"/>
<ellipse cx="526.0" cy="1071.5" rx="2.0" ry="1.7" stroke-width="1.0"/>
<ellipse cx="534.0" cy="1070.0" rx="2.0" ry="1.5" stroke-width="1.0"/>
<ellipse cx="560.0" cy="1068.0" rx="3.0" ry="1.6" stroke-width="1.0"/>
<ellipse cx="570.0" cy="1072.0" rx="2.0" ry="1.4" stroke-width="1.0"/>
<ellipse cx="570.0" cy="1077.0" rx="2.0" ry="1.4" stroke-width="1.0"/>
<ellipse cx="576.0" cy="1080.0" rx="2.2" ry="1.6" stroke-width="1.0"/>
<ellipse cx="578.0" cy="1095.0" rx="2.2" ry="1.5" stroke-width="1.0"/>
<ellipse cx="578.0" cy="1101.0" rx="2.2" ry="1.5" stroke-width="1.0"/>
<ellipse cx="577.0" cy="1109.0" rx="2.0" ry="1.4" stroke-width="1.0"/>
<ellipse cx="521.0" cy="1109.5" rx="2.5" ry="1.7" stroke-width="1.0"/>
<ellipse cx="530.0" cy="1112.0" rx="2.0" ry="1.5" stroke-width="1.0"/>
<ellipse cx="555.0" cy="1111.0" rx="2.5" ry="1.7" stroke-width="1.0"/>
<ellipse cx="562.0" cy="1110.0" rx="2.0" ry="1.5" stroke-width="1.0"/>
<path d="M517.7,1137.0 L517.7,1151.0 L523.3,1151.0 L523.3,1137.0Z" fill="#fff"/>
<path d="M523.3,1139.3 L523.1,1139.8 L522.5,1140.2 L521.6,1140.5 L520.5,1140.6 L519.4,1140.5 L518.5,1140.2 L517.9,1139.8 L517.7,1139.3" stroke-width="0.8"/>
<path d="M523.3,1141.7 L523.1,1142.1 L522.5,1142.6 L521.6,1142.8 L520.5,1142.9 L519.4,1142.8 L518.5,1142.6 L517.9,1142.1 L517.7,1141.7" stroke-width="0.8"/>
<path d="M523.3,1144.0 L523.1,1144.5 L522.5,1144.9 L521.6,1145.2 L520.5,1145.3 L519.4,1145.2 L518.5,1144.9 L517.9,1144.5 L517.7,1144.0" stroke-width="0.8"/>
<path d="M523.3,1146.3 L523.1,1146.8 L522.5,1147.2 L521.6,1147.5 L520.5,1147.6 L519.4,1147.5 L518.5,1147.2 L517.9,1146.8 L517.7,1146.3" stroke-width="0.8"/>
<path d="M523.3,1148.7 L523.1,1149.1 L522.5,1149.6 L521.6,1149.8 L520.5,1149.9 L519.4,1149.8 L518.5,1149.6 L517.9,1149.1 L517.7,1148.7" stroke-width="0.8"/>
<ellipse cx="520.5" cy="1137.0" rx="2.8" ry="1.3" fill="#fff"/>
<ellipse cx="520.5" cy="1153.5" rx="4.8" ry="4.0" fill="#fff"/>
<path d="M520.0,1124.0 L520.0,1133.6"/>
<path d="M580.5,1147.5 L580.5,1157.0 L586.1,1157.0 L586.1,1147.5Z" fill="#fff"/>
<path d="M586.1,1149.9 L585.9,1150.4 L585.3,1150.8 L584.4,1151.0 L583.3,1151.1 L582.2,1151.0 L581.3,1150.8 L580.7,1150.4 L580.5,1149.9" stroke-width="0.8"/>
<path d="M586.1,1152.2 L585.9,1152.7 L585.3,1153.1 L584.4,1153.4 L583.3,1153.5 L582.2,1153.4 L581.3,1153.1 L580.7,1152.7 L580.5,1152.2" stroke-width="0.8"/>
<path d="M586.1,1154.6 L585.9,1155.1 L585.3,1155.5 L584.4,1155.8 L583.3,1155.9 L582.2,1155.8 L581.3,1155.5 L580.7,1155.1 L580.5,1154.6" stroke-width="0.8"/>
<ellipse cx="583.3" cy="1147.5" rx="2.8" ry="1.3" fill="#fff"/>
<ellipse cx="583.8" cy="1162.0" rx="6.0" ry="6.5" fill="#fff"/>
<path d="M579.0,1163.0 L588.0,1160.0" stroke-width="0.8"/>
<path d="M582.2,1131.0 L582.2,1144.5"/>
<path d="M541.0,925.0 L541.0,948.0" stroke-width="1.0"/>
<path d="M541.0,951.0 L541.0,968.0" stroke-width="1.0"/>
<path d="M541.3,983.0 L541.3,1005.0" stroke-width="1.0"/>
<path d="M541.3,1043.0 L541.3,1063.0" stroke-width="1.0"/>
<path d="M541.3,1071.0 L541.3,1092.0" stroke-width="1.0"/>
<path d="M642.2,319.9 Q640.8,301.4 648.9,294.1 L656.3,290.4 Q678.5,285.5 700.7,289.6 L714.8,292.2 L715.5,314.4 Q717.4,344.0 704.4,355.1 Q685.9,366.2 667.4,361.8 Q643.4,351.4 642.2,319.9 Z" fill="#555" stroke-width="0.8" stroke="#555"/>
<ellipse cx="678.5" cy="325.5" rx="27.5" ry="26.7" fill="#fff" stroke-width="0.3" stroke="#fff"/>
<ellipse cx="709.5" cy="331.0" rx="2.2" ry="2.2" fill="#fff" stroke-width="0.3" stroke="#fff"/>
<ellipse cx="701.6" cy="346.8" rx="2.2" ry="2.2" fill="#fff" stroke-width="0.3" stroke="#fff"/>
<ellipse cx="686.4" cy="355.9" rx="2.2" ry="2.2" fill="#fff" stroke-width="0.3" stroke="#fff"/>
<ellipse cx="668.7" cy="355.4" rx="2.2" ry="2.2" fill="#fff" stroke-width="0.3" stroke="#fff"/>
<ellipse cx="654.1" cy="345.3" rx="2.2" ry="2.2" fill="#fff" stroke-width="0.3" stroke="#fff"/>
<ellipse cx="647.2" cy="329.0" rx="2.2" ry="2.2" fill="#fff" stroke-width="0.3" stroke="#fff"/>
<ellipse cx="650.3" cy="311.5" rx="2.2" ry="2.2" fill="#fff" stroke-width="0.3" stroke="#fff"/>
<ellipse cx="662.3" cy="298.5" rx="2.2" ry="2.2" fill="#fff" stroke-width="0.3" stroke="#fff"/>
<ellipse cx="679.5" cy="294.1" rx="2.2" ry="2.2" fill="#fff" stroke-width="0.3" stroke="#fff"/>
<ellipse cx="696.3" cy="299.6" rx="2.2" ry="2.2" fill="#fff" stroke-width="0.3" stroke="#fff"/>
<ellipse cx="707.5" cy="313.3" rx="2.2" ry="2.2" fill="#fff" stroke-width="0.3" stroke="#fff"/>
<path d="M650.8,305.1 L658.1,295.9 L661.9,305.1Z" fill="#fff" stroke-width="0.5" stroke="#fff"/>
<path d="M706.2,305.1 L700.7,295.2 L697.0,305.1Z" fill="#fff" stroke-width="0.5" stroke="#fff"/>
<path d="M674,312 L685,312 L686,330 L681,336 L676,330 Z" fill="#c9a23e" stroke-width="0.6" stroke="#a9822a"/>
<path d="M676.0,318.0 L684.0,318.0" stroke-width="0.6" stroke="#8a6a20"/>
<path d="M676.0,324.0 L684.0,324.0" stroke-width="0.6" stroke="#8a6a20"/>
<path d="M730.2,318.5 Q728.8,300.3 736.8,293.0 L744.1,289.3 Q766.0,284.6 787.9,288.6 L801.8,291.1 L802.5,313.1 Q804.3,342.2 791.5,353.2 Q773.3,364.1 755.0,359.8 Q731.3,349.6 730.2,318.5 Z" fill="#1e1e1e" stroke-width="0.8" stroke="#1e1e1e"/>
<ellipse cx="767.1" cy="324.0" rx="20.0" ry="20.0" fill="#f4f4f4" stroke-width="0.3" stroke="#f4f4f4"/>
<ellipse cx="767.1" cy="313.0" rx="5.2" ry="5.2" fill="#1e1e1e" stroke-width="0.3" stroke="#1e1e1e"/>
<ellipse cx="777.6" cy="320.6" rx="5.2" ry="5.2" fill="#1e1e1e" stroke-width="0.3" stroke="#1e1e1e"/>
<ellipse cx="773.6" cy="332.9" rx="5.2" ry="5.2" fill="#1e1e1e" stroke-width="0.3" stroke="#1e1e1e"/>
<ellipse cx="760.6" cy="332.9" rx="5.2" ry="5.2" fill="#1e1e1e" stroke-width="0.3" stroke="#1e1e1e"/>
<ellipse cx="756.6" cy="320.6" rx="5.2" ry="5.2" fill="#1e1e1e" stroke-width="0.3" stroke="#1e1e1e"/>
<ellipse cx="767.1" cy="324.0" rx="2.0" ry="2.0" fill="#bbb" stroke-width="0.5" stroke="#999"/>
<ellipse cx="795.3" cy="331.8" rx="2.7" ry="2.7" fill="#fff" stroke-width="0.3" stroke="#fff"/>
<ellipse cx="787.4" cy="345.4" rx="2.7" ry="2.7" fill="#fff" stroke-width="0.3" stroke="#fff"/>
<ellipse cx="773.8" cy="353.3" rx="2.7" ry="2.7" fill="#fff" stroke-width="0.3" stroke="#fff"/>
<ellipse cx="758.2" cy="353.3" rx="2.7" ry="2.7" fill="#fff" stroke-width="0.3" stroke="#fff"/>
<ellipse cx="744.6" cy="345.4" rx="2.7" ry="2.7" fill="#fff" stroke-width="0.3" stroke="#fff"/>
<ellipse cx="736.7" cy="331.8" rx="2.7" ry="2.7" fill="#fff" stroke-width="0.3" stroke="#fff"/>
<ellipse cx="736.7" cy="316.2" rx="2.7" ry="2.7" fill="#fff" stroke-width="0.3" stroke="#fff"/>
<ellipse cx="744.6" cy="302.6" rx="2.7" ry="2.7" fill="#fff" stroke-width="0.3" stroke="#fff"/>
<ellipse cx="758.2" cy="294.7" rx="2.7" ry="2.7" fill="#fff" stroke-width="0.3" stroke="#fff"/>
<ellipse cx="773.8" cy="294.7" rx="2.7" ry="2.7" fill="#fff" stroke-width="0.3" stroke="#fff"/>
<ellipse cx="787.4" cy="302.6" rx="2.7" ry="2.7" fill="#fff" stroke-width="0.3" stroke="#fff"/>
<ellipse cx="795.3" cy="316.2" rx="2.7" ry="2.7" fill="#fff" stroke-width="0.3" stroke="#fff"/>
<path d="M744.1,307.6 L743.3,307.5 L742.5,307.3 L741.7,307.0 L741.0,306.6 L740.3,306.1 L739.8,305.4 L739.3,304.7 L739.0,304.0 L738.7,303.2 L738.6,302.3 L738.7,301.5 L738.8,300.7 L739.1,299.9 L739.5,299.2 L740.0,298.5 L740.6,297.9 L741.3,297.4 L742.0,297.0 L742.8,296.8 L743.6,296.6 L744.5,296.6 L745.3,296.8 L746.1,297.0 L746.8,297.4" stroke-width="2.2" stroke="#fff"/>
<path d="M789.7,307.6 L788.9,307.5 L788.1,307.3 L787.3,307.0 L786.6,306.6 L785.9,306.1 L785.4,305.4 L784.9,304.7 L784.6,304.0 L784.4,303.2 L784.3,302.3 L784.3,301.5 L784.4,300.7 L784.7,299.9 L785.1,299.2 L785.6,298.5 L786.2,297.9 L786.9,297.4 L787.6,297.0 L788.4,296.8 L789.2,296.6 L790.1,296.6 L790.9,296.8 L791.7,297.0 L792.5,297.4" stroke-width="2.2" stroke="#fff"/>
<path d="M815.5,299 L820.5,299 L821,304 L820.5,342 L818,342 L816,304 Z" fill="#ddd" stroke-width="0.6" stroke="#999"/>
<path d="M642.2,258.0 L645.8,258.0 L645.5,275.0 L642.5,275.0Z" fill="#e6e6e6" stroke-width="0.6" stroke="#aaa"/>
<ellipse cx="644.0" cy="257.5" rx="2.6" ry="1.8" fill="#ddd" stroke-width="0.6" stroke="#aaa"/>
<path d="M652.2,258.0 L655.8,258.0 L655.5,275.0 L652.5,275.0Z" fill="#e6e6e6" stroke-width="0.6" stroke="#aaa"/>
<ellipse cx="654.0" cy="257.5" rx="2.6" ry="1.8" fill="#ddd" stroke-width="0.6" stroke="#aaa"/>
<path d="M664.2,258.0 L667.8,258.0 L667.5,275.0 L664.5,275.0Z" fill="#e6e6e6" stroke-width="0.6" stroke="#aaa"/>
<ellipse cx="666.0" cy="257.5" rx="2.6" ry="1.8" fill="#ddd" stroke-width="0.6" stroke="#aaa"/>
<path d="M674.2,258.0 L677.8,258.0 L677.5,275.0 L674.5,275.0Z" fill="#e6e6e6" stroke-width="0.6" stroke="#aaa"/>
<ellipse cx="676.0" cy="257.5" rx="2.6" ry="1.8" fill="#ddd" stroke-width="0.6" stroke="#aaa"/>
<path d="M686.2,258.0 L689.8,258.0 L689.5,275.0 L686.5,275.0Z" fill="#e6e6e6" stroke-width="0.6" stroke="#aaa"/>
<ellipse cx="688.0" cy="257.5" rx="2.6" ry="1.8" fill="#ddd" stroke-width="0.6" stroke="#aaa"/>
<path d="M696.2,258.0 L699.8,258.0 L699.5,275.0 L696.5,275.0Z" fill="#e6e6e6" stroke-width="0.6" stroke="#aaa"/>
<ellipse cx="698.0" cy="257.5" rx="2.6" ry="1.8" fill="#ddd" stroke-width="0.6" stroke="#aaa"/>
<path d="M710.2,262.0 L713.8,262.0 L713.5,273.0 L710.5,273.0Z" fill="#e6e6e6" stroke-width="0.6" stroke="#aaa"/>
<ellipse cx="712.0" cy="261.5" rx="2.6" ry="1.8" fill="#ddd" stroke-width="0.6" stroke="#aaa"/>
<path d="M721.2,262.0 L724.8,262.0 L724.5,273.0 L721.5,273.0Z" fill="#e6e6e6" stroke-width="0.6" stroke="#aaa"/>
<ellipse cx="723.0" cy="261.5" rx="2.6" ry="1.8" fill="#ddd" stroke-width="0.6" stroke="#aaa"/>
<ellipse cx="740.0" cy="261.0" rx="3.0" ry="3.0" fill="none" stroke-width="1.0" stroke="#bbb"/>
<ellipse cx="750.5" cy="261.0" rx="3.0" ry="3.0" fill="none" stroke-width="1.0" stroke="#bbb"/>
<ellipse cx="761.0" cy="261.0" rx="3.0" ry="3.0" fill="none" stroke-width="1.0" stroke="#bbb"/>
<ellipse cx="771.5" cy="261.0" rx="3.0" ry="3.0" fill="none" stroke-width="1.0" stroke="#bbb"/>
<ellipse cx="782.0" cy="261.0" rx="3.0" ry="3.0" fill="none" stroke-width="1.0" stroke="#bbb"/>
<ellipse cx="792.5" cy="261.0" rx="3.0" ry="3.0" fill="none" stroke-width="1.0" stroke="#bbb"/>
<ellipse cx="745.0" cy="274.0" rx="3.0" ry="3.0" fill="none" stroke-width="1.0" stroke="#bbb"/>
<ellipse cx="755.5" cy="274.0" rx="3.0" ry="3.0" fill="none" stroke-width="1.0" stroke="#bbb"/>
<ellipse cx="766.0" cy="274.0" rx="3.0" ry="3.0" fill="none" stroke-width="1.0" stroke="#bbb"/>
<ellipse cx="776.5" cy="274.0" rx="3.0" ry="3.0" fill="none" stroke-width="1.0" stroke="#bbb"/>
<ellipse cx="787.0" cy="274.0" rx="3.0" ry="3.0" fill="none" stroke-width="1.0" stroke="#bbb"/>
<path d="M690.0,362.0 L693.0,362.0 L693.0,377.0 L690.0,377.0Z" fill="#ddd" stroke-width="0.5" stroke="#aaa"/>
<ellipse cx="700.5" cy="364.7" rx="3.5" ry="1.9" fill="none" stroke-width="1.1" stroke="#444"/>
<ellipse cx="700.5" cy="368.1" rx="3.5" ry="1.9" fill="none" stroke-width="1.1" stroke="#444"/>
<ellipse cx="700.5" cy="371.5" rx="3.5" ry="1.9" fill="none" stroke-width="1.1" stroke="#444"/>
<ellipse cx="700.5" cy="374.9" rx="3.5" ry="1.9" fill="none" stroke-width="1.1" stroke="#444"/>
<ellipse cx="700.5" cy="378.3" rx="3.5" ry="1.9" fill="none" stroke-width="1.1" stroke="#444"/>
<ellipse cx="717.0" cy="364.8" rx="4.0" ry="2.0" fill="none" stroke-width="1.1" stroke="#444"/>
<ellipse cx="717.0" cy="368.4" rx="4.0" ry="2.0" fill="none" stroke-width="1.1" stroke="#444"/>
<ellipse cx="717.0" cy="372.0" rx="4.0" ry="2.0" fill="none" stroke-width="1.1" stroke="#444"/>
<ellipse cx="717.0" cy="375.6" rx="4.0" ry="2.0" fill="none" stroke-width="1.1" stroke="#444"/>
<ellipse cx="717.0" cy="379.2" rx="4.0" ry="2.0" fill="none" stroke-width="1.1" stroke="#444"/>
<ellipse cx="731.0" cy="364.8" rx="4.0" ry="2.0" fill="none" stroke-width="1.1" stroke="#555"/>
<ellipse cx="731.0" cy="368.4" rx="4.0" ry="2.0" fill="none" stroke-width="1.1" stroke="#555"/>
<ellipse cx="731.0" cy="372.0" rx="4.0" ry="2.0" fill="none" stroke-width="1.1" stroke="#555"/>
<ellipse cx="731.0" cy="375.6" rx="4.0" ry="2.0" fill="none" stroke-width="1.1" stroke="#555"/>
<ellipse cx="731.0" cy="379.2" rx="4.0" ry="2.0" fill="none" stroke-width="1.1" stroke="#555"/>
<ellipse cx="748.0" cy="362.6" rx="4.5" ry="1.7" fill="none" stroke-width="1.1" stroke="#aaa"/>
<ellipse cx="748.0" cy="365.7" rx="4.5" ry="1.7" fill="none" stroke-width="1.1" stroke="#aaa"/>
<ellipse cx="748.0" cy="368.9" rx="4.5" ry="1.7" fill="none" stroke-width="1.1" stroke="#aaa"/>
<ellipse cx="748.0" cy="372.0" rx="4.5" ry="1.7" fill="none" stroke-width="1.1" stroke="#aaa"/>
<ellipse cx="748.0" cy="375.1" rx="4.5" ry="1.7" fill="none" stroke-width="1.1" stroke="#aaa"/>
<ellipse cx="748.0" cy="378.3" rx="4.5" ry="1.7" fill="none" stroke-width="1.1" stroke="#aaa"/>
<ellipse cx="748.0" cy="381.4" rx="4.5" ry="1.7" fill="none" stroke-width="1.1" stroke="#aaa"/>
<path d="M255.6,1094.5 Q254.4,1079.5 261.0,1073.5 L267.0,1070.5 Q285.0,1066.6 303.0,1069.9 L314.4,1072.0 L315.0,1090.0 Q316.5,1114.0 306.0,1123.0 Q291.0,1132.0 276.0,1128.4 Q256.5,1120.0 255.6,1094.5 Z" fill="#1e1e1e" stroke-width="0.8" stroke="#1e1e1e"/>
<ellipse cx="285.9" cy="1099.0" rx="16.3" ry="16.3" fill="#f4f4f4" stroke-width="0.3" stroke="#f4f4f4"/>
<ellipse cx="285.9" cy="1090.0" rx="4.2" ry="4.2" fill="#1e1e1e" stroke-width="0.3" stroke="#1e1e1e"/>
<ellipse cx="294.4" cy="1096.2" rx="4.2" ry="4.2" fill="#1e1e1e" stroke-width="0.3" stroke="#1e1e1e"/>
<ellipse cx="291.2" cy="1106.3" rx="4.2" ry="4.2" fill="#1e1e1e" stroke-width="0.3" stroke="#1e1e1e"/>
<ellipse cx="280.6" cy="1106.3" rx="4.2" ry="4.2" fill="#1e1e1e" stroke-width="0.3" stroke="#1e1e1e"/>
<ellipse cx="277.4" cy="1096.2" rx="4.2" ry="4.2" fill="#1e1e1e" stroke-width="0.3" stroke="#1e1e1e"/>
<ellipse cx="285.9" cy="1099.0" rx="1.6" ry="1.6" fill="#bbb" stroke-width="0.5" stroke="#999"/>
<ellipse cx="309.1" cy="1105.4" rx="2.2" ry="2.2" fill="#fff" stroke-width="0.3" stroke="#fff"/>
<ellipse cx="302.6" cy="1116.6" rx="2.2" ry="2.2" fill="#fff" stroke-width="0.3" stroke="#fff"/>
<ellipse cx="291.4" cy="1123.1" rx="2.2" ry="2.2" fill="#fff" stroke-width="0.3" stroke="#fff"/>
<ellipse cx="278.6" cy="1123.1" rx="2.2" ry="2.2" fill="#fff" stroke-width="0.3" stroke="#fff"/>
<ellipse cx="267.4" cy="1116.6" rx="2.2" ry="2.2" fill="#fff" stroke-width="0.3" stroke="#fff"/>
<ellipse cx="260.9" cy="1105.4" rx="2.2" ry="2.2" fill="#fff" stroke-width="0.3" stroke="#fff"/>
<ellipse cx="260.9" cy="1092.6" rx="2.2" ry="2.2" fill="#fff" stroke-width="0.3" stroke="#fff"/>
<ellipse cx="267.4" cy="1081.4" rx="2.2" ry="2.2" fill="#fff" stroke-width="0.3" stroke="#fff"/>
<ellipse cx="278.6" cy="1074.9" rx="2.2" ry="2.2" fill="#fff" stroke-width="0.3" stroke="#fff"/>
<ellipse cx="291.4" cy="1074.9" rx="2.2" ry="2.2" fill="#fff" stroke-width="0.3" stroke="#fff"/>
<ellipse cx="302.6" cy="1081.4" rx="2.2" ry="2.2" fill="#fff" stroke-width="0.3" stroke="#fff"/>
<ellipse cx="309.1" cy="1092.6" rx="2.2" ry="2.2" fill="#fff" stroke-width="0.3" stroke="#fff"/>
<path d="M267.0,1085.5 L266.3,1085.4 L265.6,1085.3 L265.0,1085.0 L264.4,1084.7 L263.9,1084.3 L263.4,1083.7 L263.1,1083.2 L262.8,1082.5 L262.6,1081.9 L262.5,1081.2 L262.5,1080.5 L262.7,1079.8 L262.9,1079.2 L263.2,1078.6 L263.6,1078.0 L264.1,1077.6 L264.7,1077.2 L265.3,1076.8 L265.9,1076.6 L266.6,1076.5 L267.3,1076.5 L268.0,1076.6 L268.6,1076.8 L269.2,1077.1" stroke-width="2.2" stroke="#fff"/>
<path d="M304.5,1085.5 L303.8,1085.4 L303.1,1085.3 L302.5,1085.0 L301.9,1084.7 L301.4,1084.3 L300.9,1083.7 L300.6,1083.2 L300.3,1082.5 L300.1,1081.9 L300.0,1081.2 L300.0,1080.5 L300.2,1079.8 L300.4,1079.2 L300.7,1078.6 L301.1,1078.0 L301.6,1077.6 L302.2,1077.2 L302.8,1076.8 L303.4,1076.6 L304.1,1076.5 L304.8,1076.5 L305.5,1076.6 L306.1,1076.8 L306.8,1077.1" stroke-width="2.2" stroke="#fff"/>
<path d="M321.1,1095.1 Q319.9,1080.3 326.4,1074.4 L332.3,1071.5 Q350.0,1067.6 367.7,1070.9 L378.9,1073.0 L379.5,1090.7 Q381.0,1114.2 370.6,1123.1 Q355.9,1132.0 341.1,1128.4 Q322.0,1120.2 321.1,1095.1 Z" fill="#555" stroke-width="0.8" stroke="#555"/>
<ellipse cx="350.0" cy="1099.5" rx="22.3" ry="21.6" fill="#fff" stroke-width="0.3" stroke="#fff"/>
<ellipse cx="374.7" cy="1103.9" rx="1.8" ry="1.8" fill="#fff" stroke-width="0.3" stroke="#fff"/>
<ellipse cx="368.4" cy="1116.5" rx="1.8" ry="1.8" fill="#fff" stroke-width="0.3" stroke="#fff"/>
<ellipse cx="356.3" cy="1123.8" rx="1.8" ry="1.8" fill="#fff" stroke-width="0.3" stroke="#fff"/>
<ellipse cx="342.2" cy="1123.3" rx="1.8" ry="1.8" fill="#fff" stroke-width="0.3" stroke="#fff"/>
<ellipse cx="330.5" cy="1115.3" rx="1.8" ry="1.8" fill="#fff" stroke-width="0.3" stroke="#fff"/>
<ellipse cx="325.1" cy="1102.3" rx="1.8" ry="1.8" fill="#fff" stroke-width="0.3" stroke="#fff"/>
<ellipse cx="327.5" cy="1088.4" rx="1.8" ry="1.8" fill="#fff" stroke-width="0.3" stroke="#fff"/>
<ellipse cx="337.1" cy="1078.0" rx="1.8" ry="1.8" fill="#fff" stroke-width="0.3" stroke="#fff"/>
<ellipse cx="350.8" cy="1074.4" rx="1.8" ry="1.8" fill="#fff" stroke-width="0.3" stroke="#fff"/>
<ellipse cx="364.2" cy="1078.8" rx="1.8" ry="1.8" fill="#fff" stroke-width="0.3" stroke="#fff"/>
<ellipse cx="373.1" cy="1089.8" rx="1.8" ry="1.8" fill="#fff" stroke-width="0.3" stroke="#fff"/>
<path d="M327.9,1083.3 L333.8,1075.9 L336.7,1083.3Z" fill="#fff" stroke-width="0.5" stroke="#fff"/>
<path d="M372.1,1083.3 L367.7,1075.3 L364.8,1083.3Z" fill="#fff" stroke-width="0.5" stroke="#fff"/>
<path d="M386,1085 L394,1085 L395,1097 L390,1101 L386,1097 Z" fill="#c9a23e" stroke-width="0.6" stroke="#a9822a"/>
<path d="M399.5,1085 L403,1085 L404,1098 L401.5,1101 L399,1098 Z" fill="#c9a23e" stroke-width="0.6" stroke="#8a6a20"/>
<path d="M412,1078 L415,1078 L416.5,1110 L414,1112 L412.5,1110 Z" fill="#e4e4e4" stroke-width="0.6" stroke="#aaa"/>
<ellipse cx="383.0" cy="1121.0" rx="2.3" ry="2.3" fill="none" stroke-width="0.9" stroke="#aaa"/>
<ellipse cx="391.5" cy="1121.0" rx="2.3" ry="2.3" fill="none" stroke-width="0.9" stroke="#aaa"/>
<ellipse cx="400.0" cy="1121.0" rx="2.3" ry="2.3" fill="none" stroke-width="0.9" stroke="#aaa"/>
<ellipse cx="408.5" cy="1121.0" rx="2.3" ry="2.3" fill="none" stroke-width="0.9" stroke="#aaa"/>
<path d="M384.2,1129.0 L387.8,1129.0 L387.5,1134.0 L384.5,1134.0Z" fill="#e6e6e6" stroke-width="0.6" stroke="#aaa"/>
<ellipse cx="386.0" cy="1128.5" rx="2.6" ry="1.8" fill="#ddd" stroke-width="0.6" stroke="#aaa"/>
<path d="M392.7,1129.0 L396.3,1129.0 L396.0,1134.0 L393.0,1134.0Z" fill="#e6e6e6" stroke-width="0.6" stroke="#aaa"/>
<ellipse cx="394.5" cy="1128.5" rx="2.6" ry="1.8" fill="#ddd" stroke-width="0.6" stroke="#aaa"/>
<path d="M401.2,1129.0 L404.8,1129.0 L404.5,1134.0 L401.5,1134.0Z" fill="#e6e6e6" stroke-width="0.6" stroke="#aaa"/>
<ellipse cx="403.0" cy="1128.5" rx="2.6" ry="1.8" fill="#ddd" stroke-width="0.6" stroke="#aaa"/>
<path d="M409.7,1129.0 L413.3,1129.0 L413.0,1134.0 L410.0,1134.0Z" fill="#e6e6e6" stroke-width="0.6" stroke="#aaa"/>
<ellipse cx="411.5" cy="1128.5" rx="2.6" ry="1.8" fill="#ddd" stroke-width="0.6" stroke="#aaa"/>
<path d="M251.0,1151.0 L258.0,1150.0 L258.0,1155.0 L251.0,1156.0Z" fill="#555" stroke-width="0.5" stroke="#333"/>
<ellipse cx="261.0" cy="1153.0" rx="3.8" ry="10.5" fill="#111" stroke-width="0.4" stroke="#111"/>
<ellipse cx="268.0" cy="1153.0" rx="3.8" ry="10.5" fill="#111" stroke-width="0.4" stroke="#111"/>
<ellipse cx="275.0" cy="1153.0" rx="3.8" ry="10.5" fill="#111" stroke-width="0.4" stroke="#111"/>
<ellipse cx="282.0" cy="1153.0" rx="3.8" ry="10.5" fill="#111" stroke-width="0.4" stroke="#111"/>
<path d="M258.0,1147.0 L288.0,1146.0 L288.0,1160.0 L258.0,1160.0Z" fill="#111" stroke-width="0.4" stroke="#111"/>
<path d="M286.0,1150.0 L296.0,1150.0 L296.0,1156.0 L286.0,1156.0Z" fill="#666" stroke-width="0.5" stroke="#333"/>
<path d="M296,1146 L305,1147 Q310,1153 305,1159 L296,1160 Z" fill="#111" stroke-width="0.4" stroke="#111"/>
<ellipse cx="306.0" cy="1153.0" rx="2.5" ry="6.0" fill="#ddd" stroke-width="0.5" stroke="#999"/>
<path d="M311.0,1149.0 L316.0,1149.0 L316.0,1157.0 L311.0,1157.0Z" fill="#ccc" stroke-width="0.5" stroke="#999"/>
<ellipse cx="322.0" cy="1146.5" rx="3.0" ry="1.7" fill="none" stroke-width="1.1" stroke="#555"/>
<ellipse cx="322.0" cy="1149.5" rx="3.0" ry="1.7" fill="none" stroke-width="1.1" stroke="#555"/>
<ellipse cx="322.0" cy="1152.5" rx="3.0" ry="1.7" fill="none" stroke-width="1.1" stroke="#555"/>
<ellipse cx="322.0" cy="1155.5" rx="3.0" ry="1.7" fill="none" stroke-width="1.1" stroke="#555"/>
<ellipse cx="322.0" cy="1158.5" rx="3.0" ry="1.7" fill="none" stroke-width="1.1" stroke="#555"/>
<ellipse cx="332.0" cy="1146.5" rx="3.0" ry="1.7" fill="none" stroke-width="1.1" stroke="#444"/>
<ellipse cx="332.0" cy="1149.5" rx="3.0" ry="1.7" fill="none" stroke-width="1.1" stroke="#444"/>
<ellipse cx="332.0" cy="1152.5" rx="3.0" ry="1.7" fill="none" stroke-width="1.1" stroke="#444"/>
<ellipse cx="332.0" cy="1155.5" rx="3.0" ry="1.7" fill="none" stroke-width="1.1" stroke="#444"/>
<ellipse cx="332.0" cy="1158.5" rx="3.0" ry="1.7" fill="none" stroke-width="1.1" stroke="#444"/>
<ellipse cx="342.0" cy="1146.5" rx="3.0" ry="1.7" fill="none" stroke-width="1.1" stroke="#444"/>
<ellipse cx="342.0" cy="1149.5" rx="3.0" ry="1.7" fill="none" stroke-width="1.1" stroke="#444"/>
<ellipse cx="342.0" cy="1152.5" rx="3.0" ry="1.7" fill="none" stroke-width="1.1" stroke="#444"/>
<ellipse cx="342.0" cy="1155.5" rx="3.0" ry="1.7" fill="none" stroke-width="1.1" stroke="#444"/>
<ellipse cx="342.0" cy="1158.5" rx="3.0" ry="1.7" fill="none" stroke-width="1.1" stroke="#444"/>
<ellipse cx="355.0" cy="1146.5" rx="3.0" ry="1.7" fill="none" stroke-width="1.1" stroke="#666"/>
<ellipse cx="355.0" cy="1149.5" rx="3.0" ry="1.7" fill="none" stroke-width="1.1" stroke="#666"/>
<ellipse cx="355.0" cy="1152.5" rx="3.0" ry="1.7" fill="none" stroke-width="1.1" stroke="#666"/>
<ellipse cx="355.0" cy="1155.5" rx="3.0" ry="1.7" fill="none" stroke-width="1.1" stroke="#666"/>
<ellipse cx="355.0" cy="1158.5" rx="3.0" ry="1.7" fill="none" stroke-width="1.1" stroke="#666"/>
<path d="M364.2,1146.0 L367.8,1146.0 L367.5,1161.0 L364.5,1161.0Z" fill="#e6e6e6" stroke-width="0.6" stroke="#888"/>
<ellipse cx="366.0" cy="1145.5" rx="2.6" ry="1.8" fill="#ddd" stroke-width="0.6" stroke="#888"/>
<path d="M375.2,1146.0 L378.8,1146.0 L378.5,1161.0 L375.5,1161.0Z" fill="#e6e6e6" stroke-width="0.6" stroke="#888"/>
<ellipse cx="377.0" cy="1145.5" rx="2.6" ry="1.8" fill="#ddd" stroke-width="0.6" stroke="#888"/>
<path d="M387.2,1146.0 L390.8,1146.0 L390.5,1161.0 L387.5,1161.0Z" fill="#e6e6e6" stroke-width="0.6" stroke="#888"/>
<ellipse cx="389.0" cy="1145.5" rx="2.6" ry="1.8" fill="#ddd" stroke-width="0.6" stroke="#888"/>
<path d="M398.2,1146.0 L401.8,1146.0 L401.5,1161.0 L398.5,1161.0Z" fill="#e6e6e6" stroke-width="0.6" stroke="#888"/>
<ellipse cx="400.0" cy="1145.5" rx="2.6" ry="1.8" fill="#ddd" stroke-width="0.6" stroke="#888"/>
<path d="M409.2,1146.0 L412.8,1146.0 L412.5,1161.0 L409.5,1161.0Z" fill="#e6e6e6" stroke-width="0.6" stroke="#888"/>
<ellipse cx="411.0" cy="1145.5" rx="2.6" ry="1.8" fill="#ddd" stroke-width="0.6" stroke="#888"/>
<path d="M417.2,1146.0 L420.8,1146.0 L420.5,1161.0 L417.5,1161.0Z" fill="#e6e6e6" stroke-width="0.6" stroke="#888"/>
<ellipse cx="419.0" cy="1145.5" rx="2.6" ry="1.8" fill="#ddd" stroke-width="0.6" stroke="#888"/>
<ellipse cx="777.1" cy="1086.5" rx="17.3" ry="16.3" fill="none" stroke-width="2.8" stroke="#1a1a1a"/>
<ellipse cx="777.0" cy="1087.8" rx="6.5" ry="6.5" fill="none" stroke-width="1.4" stroke="#1a1a1a"/>
<ellipse cx="815.3" cy="1089.0" rx="17.8" ry="16.3" fill="none" stroke-width="2.8" stroke="#1a1a1a"/>
<ellipse cx="812.0" cy="1087.8" rx="6.5" ry="6.5" fill="none" stroke-width="1.4" stroke="#1a1a1a"/>
<path d="M840.5,1069.2 Q839.5,1056.8 845.0,1051.8 L850.0,1049.2 Q865.0,1046.0 880.0,1048.8 L889.5,1050.5 L890.0,1065.5 Q891.2,1085.5 882.5,1093.0 Q870.0,1100.5 857.5,1097.5 Q841.2,1090.5 840.5,1069.2 Z" fill="#808080" stroke-width="0.8" stroke="#808080"/>
<path d="M843.0,1069.6 Q842.0,1058.4 847.0,1053.9 L851.5,1051.6 Q865.0,1048.7 878.5,1051.2 L887.0,1052.8 L887.5,1066.2 Q888.6,1084.2 880.8,1091.0 Q869.5,1097.8 858.2,1095.0 Q843.6,1088.8 843.0,1069.6 Z" fill="#fff" stroke-width="0.8" stroke="#fff"/>
<ellipse cx="865.0" cy="1073.0" rx="16.5" ry="16.0" fill="#808080" stroke-width="0.3" stroke="#808080"/>
<ellipse cx="865.0" cy="1073.0" rx="14.5" ry="14.0" fill="#fff" stroke-width="0.3" stroke="#fff"/>
<ellipse cx="884.4" cy="1074.7" rx="1.6" ry="1.6" fill="#999" stroke-width="0.3" stroke="#999"/>
<ellipse cx="881.0" cy="1084.2" rx="1.6" ry="1.6" fill="#999" stroke-width="0.3" stroke="#999"/>
<ellipse cx="873.2" cy="1090.7" rx="1.6" ry="1.6" fill="#999" stroke-width="0.3" stroke="#999"/>
<ellipse cx="863.3" cy="1092.4" rx="1.6" ry="1.6" fill="#999" stroke-width="0.3" stroke="#999"/>
<ellipse cx="853.8" cy="1089.0" rx="1.6" ry="1.6" fill="#999" stroke-width="0.3" stroke="#999"/>
<ellipse cx="847.3" cy="1081.2" rx="1.6" ry="1.6" fill="#999" stroke-width="0.3" stroke="#999"/>
<ellipse cx="845.6" cy="1071.3" rx="1.6" ry="1.6" fill="#999" stroke-width="0.3" stroke="#999"/>
<ellipse cx="849.0" cy="1061.8" rx="1.6" ry="1.6" fill="#999" stroke-width="0.3" stroke="#999"/>
<ellipse cx="856.8" cy="1055.3" rx="1.6" ry="1.6" fill="#999" stroke-width="0.3" stroke="#999"/>
<ellipse cx="866.7" cy="1053.6" rx="1.6" ry="1.6" fill="#999" stroke-width="0.3" stroke="#999"/>
<ellipse cx="876.2" cy="1057.0" rx="1.6" ry="1.6" fill="#999" stroke-width="0.3" stroke="#999"/>
<ellipse cx="882.7" cy="1064.8" rx="1.6" ry="1.6" fill="#999" stroke-width="0.3" stroke="#999"/>
<ellipse cx="851.3" cy="1144.6" rx="64.5" ry="24.5" fill="none" stroke-width="4.5" stroke="#c8c8c8"/>
<ellipse cx="851.3" cy="1144.6" rx="60.0" ry="20.0" fill="none" stroke-width="2" stroke="#e4e4e4"/>
<path d="M815,1131 L872,1129 L836,1158 L872,1158" fill="none" stroke-width="6" stroke="#c6c6c6"/>
<path d="M826,1152 Q850,1140 900,1150" fill="none" stroke-width="4" stroke="#d0d0d0"/>
<path d="M843.5,1132.0 Q842.5,1118.5 848.4,1113.0 L853.8,1110.3 Q870.0,1106.8 886.2,1109.8 L896.5,1111.7 L897.0,1127.9 Q898.4,1149.5 888.9,1157.6 Q875.4,1165.7 861.9,1162.5 Q844.4,1154.9 843.5,1132.0 Z" fill="#1e1e1e" stroke-width="0.8" stroke="#1e1e1e"/>
<ellipse cx="870.8" cy="1136.0" rx="14.2" ry="14.2" fill="#f4f4f4" stroke-width="0.3" stroke="#f4f4f4"/>
<ellipse cx="870.8" cy="1128.2" rx="3.7" ry="3.7" fill="#1e1e1e" stroke-width="0.3" stroke="#1e1e1e"/>
<ellipse cx="878.2" cy="1133.6" rx="3.7" ry="3.7" fill="#1e1e1e" stroke-width="0.3" stroke="#1e1e1e"/>
<ellipse cx="875.4" cy="1142.3" rx="3.7" ry="3.7" fill="#1e1e1e" stroke-width="0.3" stroke="#1e1e1e"/>
<ellipse cx="866.2" cy="1142.3" rx="3.7" ry="3.7" fill="#1e1e1e" stroke-width="0.3" stroke="#1e1e1e"/>
<ellipse cx="863.4" cy="1133.6" rx="3.7" ry="3.7" fill="#1e1e1e" stroke-width="0.3" stroke="#1e1e1e"/>
<ellipse cx="870.8" cy="1136.0" rx="1.4" ry="1.4" fill="#bbb" stroke-width="0.5" stroke="#999"/>
<ellipse cx="891.6" cy="1141.8" rx="2.0" ry="2.0" fill="#fff" stroke-width="0.3" stroke="#fff"/>
<ellipse cx="885.8" cy="1151.8" rx="2.0" ry="2.0" fill="#fff" stroke-width="0.3" stroke="#fff"/>
<ellipse cx="875.8" cy="1157.6" rx="2.0" ry="2.0" fill="#fff" stroke-width="0.3" stroke="#fff"/>
<ellipse cx="864.2" cy="1157.6" rx="2.0" ry="2.0" fill="#fff" stroke-width="0.3" stroke="#fff"/>
<ellipse cx="854.2" cy="1151.8" rx="2.0" ry="2.0" fill="#fff" stroke-width="0.3" stroke="#fff"/>
<ellipse cx="848.4" cy="1141.8" rx="2.0" ry="2.0" fill="#fff" stroke-width="0.3" stroke="#fff"/>
<ellipse cx="848.4" cy="1130.2" rx="2.0" ry="2.0" fill="#fff" stroke-width="0.3" stroke="#fff"/>
<ellipse cx="854.2" cy="1120.2" rx="2.0" ry="2.0" fill="#fff" stroke-width="0.3" stroke="#fff"/>
<ellipse cx="864.2" cy="1114.4" rx="2.0" ry="2.0" fill="#fff" stroke-width="0.3" stroke="#fff"/>
<ellipse cx="875.8" cy="1114.4" rx="2.0" ry="2.0" fill="#fff" stroke-width="0.3" stroke="#fff"/>
<ellipse cx="885.8" cy="1120.2" rx="2.0" ry="2.0" fill="#fff" stroke-width="0.3" stroke="#fff"/>
<ellipse cx="891.6" cy="1130.2" rx="2.0" ry="2.0" fill="#fff" stroke-width="0.3" stroke="#fff"/>
<path d="M853.8,1123.8 L853.2,1123.8 L852.6,1123.7 L852.0,1123.4 L851.5,1123.1 L851.0,1122.7 L850.6,1122.3 L850.2,1121.7 L850.0,1121.2 L849.8,1120.6 L849.8,1120.0 L849.8,1119.4 L849.9,1118.8 L850.1,1118.2 L850.4,1117.6 L850.8,1117.1 L851.2,1116.7 L851.7,1116.3 L852.3,1116.1 L852.8,1115.9 L853.4,1115.8 L854.1,1115.8 L854.7,1115.8 L855.3,1116.0 L855.8,1116.3" stroke-width="2.2" stroke="#fff"/>
<path d="M887.5,1123.8 L886.9,1123.8 L886.3,1123.7 L885.8,1123.4 L885.2,1123.1 L884.7,1122.7 L884.3,1122.3 L884.0,1121.7 L883.7,1121.2 L883.6,1120.6 L883.5,1120.0 L883.5,1119.4 L883.6,1118.8 L883.8,1118.2 L884.1,1117.6 L884.5,1117.1 L884.9,1116.7 L885.4,1116.3 L886.0,1116.1 L886.6,1115.9 L887.2,1115.8 L887.8,1115.8 L888.4,1115.8 L889.0,1116.0 L889.6,1116.3" stroke-width="2.2" stroke="#fff"/>
<g transform="translate(717,1137) rotate(-35)">
<path d="M-19.0,-5.0 L-13.0,-6.0 L-13.0,6.0 L-19.0,5.0Z" fill="#e0e0e0" stroke-width="0.5" stroke="#999"/>
<path d="M-13.0,-7.0 L-5.0,-7.0 L-5.0,7.0 L-13.0,7.0Z" fill="#d9c08a" stroke-width="0.5" stroke="#a08040"/>
<ellipse cx="-2.0" cy="0.0" rx="4.0" ry="8.5" fill="#151515" stroke-width="0.4" stroke="#151515"/>
<ellipse cx="5.0" cy="0.0" rx="4.0" ry="8.5" fill="#151515" stroke-width="0.4" stroke="#151515"/>
<ellipse cx="12.0" cy="0.0" rx="4.0" ry="8.5" fill="#151515" stroke-width="0.4" stroke="#151515"/>
<path d="M-5.0,-6.5 L14.0,-6.5 L14.0,6.5 L-5.0,6.5Z" fill="#151515" stroke-width="0.4" stroke="#151515"/>
<path d="M15.0,-3.0 L19.0,-3.0 L19.0,3.0 L15.0,3.0Z" fill="#333" stroke-width="0.4" stroke="#222"/>
</g>
<ellipse cx="721.0" cy="1048.4" rx="3.0" ry="1.5" fill="none" stroke-width="1.1" stroke="#bbb"/>
<ellipse cx="721.0" cy="1051.1" rx="3.0" ry="1.5" fill="none" stroke-width="1.1" stroke="#bbb"/>
<ellipse cx="721.0" cy="1053.9" rx="3.0" ry="1.5" fill="none" stroke-width="1.1" stroke="#bbb"/>
<ellipse cx="721.0" cy="1056.6" rx="3.0" ry="1.5" fill="none" stroke-width="1.1" stroke="#bbb"/>
<ellipse cx="738.0" cy="1048.4" rx="3.0" ry="1.5" fill="none" stroke-width="1.1" stroke="#bbb"/>
<ellipse cx="738.0" cy="1051.1" rx="3.0" ry="1.5" fill="none" stroke-width="1.1" stroke="#bbb"/>
<ellipse cx="738.0" cy="1053.9" rx="3.0" ry="1.5" fill="none" stroke-width="1.1" stroke="#bbb"/>
<ellipse cx="738.0" cy="1056.6" rx="3.0" ry="1.5" fill="none" stroke-width="1.1" stroke="#bbb"/>
<ellipse cx="749.0" cy="1048.4" rx="3.0" ry="1.5" fill="none" stroke-width="1.1" stroke="#555"/>
<ellipse cx="749.0" cy="1051.1" rx="3.0" ry="1.5" fill="none" stroke-width="1.1" stroke="#555"/>
<ellipse cx="749.0" cy="1053.9" rx="3.0" ry="1.5" fill="none" stroke-width="1.1" stroke="#555"/>
<ellipse cx="749.0" cy="1056.6" rx="3.0" ry="1.5" fill="none" stroke-width="1.1" stroke="#555"/>
<ellipse cx="758.0" cy="1048.4" rx="3.0" ry="1.5" fill="none" stroke-width="1.1" stroke="#666"/>
<ellipse cx="758.0" cy="1051.1" rx="3.0" ry="1.5" fill="none" stroke-width="1.1" stroke="#666"/>
<ellipse cx="758.0" cy="1053.9" rx="3.0" ry="1.5" fill="none" stroke-width="1.1" stroke="#666"/>
<ellipse cx="758.0" cy="1056.6" rx="3.0" ry="1.5" fill="none" stroke-width="1.1" stroke="#666"/>
<ellipse cx="766.0" cy="1048.4" rx="3.0" ry="1.5" fill="none" stroke-width="1.1" stroke="#555"/>
<ellipse cx="766.0" cy="1051.1" rx="3.0" ry="1.5" fill="none" stroke-width="1.1" stroke="#555"/>
<ellipse cx="766.0" cy="1053.9" rx="3.0" ry="1.5" fill="none" stroke-width="1.1" stroke="#555"/>
<ellipse cx="766.0" cy="1056.6" rx="3.0" ry="1.5" fill="none" stroke-width="1.1" stroke="#555"/>
<path d="M710.2,1070.0 L713.8,1070.0 L713.5,1082.0 L710.5,1082.0Z" fill="#e6e6e6" stroke-width="0.6" stroke="#999"/>
<ellipse cx="712.0" cy="1069.5" rx="2.6" ry="1.8" fill="#ddd" stroke-width="0.6" stroke="#999"/>
<path d="M718.2,1070.0 L721.8,1070.0 L721.5,1082.0 L718.5,1082.0Z" fill="#e6e6e6" stroke-width="0.6" stroke="#999"/>
<ellipse cx="720.0" cy="1069.5" rx="2.6" ry="1.8" fill="#ddd" stroke-width="0.6" stroke="#999"/>
<path d="M726.2,1071.0 L729.8,1071.0 L729.5,1081.0 L726.5,1081.0Z" fill="#e6e6e6" stroke-width="0.6" stroke="#999"/>
<ellipse cx="728.0" cy="1070.5" rx="2.6" ry="1.8" fill="#ddd" stroke-width="0.6" stroke="#999"/>
<path d="M712.2,1087.0 L715.8,1087.0 L715.5,1099.0 L712.5,1099.0Z" fill="#e6e6e6" stroke-width="0.6" stroke="#999"/>
<ellipse cx="714.0" cy="1086.5" rx="2.6" ry="1.8" fill="#ddd" stroke-width="0.6" stroke="#999"/>
<path d="M718.2,1087.0 L721.8,1087.0 L721.5,1097.0 L718.5,1097.0Z" fill="#e6e6e6" stroke-width="0.6" stroke="#999"/>
<ellipse cx="720.0" cy="1086.5" rx="2.6" ry="1.8" fill="#ddd" stroke-width="0.6" stroke="#999"/>
<path d="M743.2,1071.0 L746.8,1071.0 L746.5,1081.0 L743.5,1081.0Z" fill="#e6e6e6" stroke-width="0.6" stroke="#999"/>
<ellipse cx="745.0" cy="1070.5" rx="2.6" ry="1.8" fill="#ddd" stroke-width="0.6" stroke="#999"/>
<path d="M750.2,1068.0 L753.8,1068.0 L753.5,1074.0 L750.5,1074.0Z" fill="#e6e6e6" stroke-width="0.6" stroke="#999"/>
<ellipse cx="752.0" cy="1067.5" rx="2.6" ry="1.8" fill="#ddd" stroke-width="0.6" stroke="#999"/>
<path d="M758.2,1068.0 L761.8,1068.0 L761.5,1074.0 L758.5,1074.0Z" fill="#e6e6e6" stroke-width="0.6" stroke="#999"/>
<ellipse cx="760.0" cy="1067.5" rx="2.6" ry="1.8" fill="#ddd" stroke-width="0.6" stroke="#999"/>
<path d="M765.2,1070.0 L768.8,1070.0 L768.5,1074.0 L765.5,1074.0Z" fill="#e6e6e6" stroke-width="0.6" stroke="#999"/>
<ellipse cx="767.0" cy="1069.5" rx="2.6" ry="1.8" fill="#ddd" stroke-width="0.6" stroke="#999"/>
<path d="M750.2,1082.0 L753.8,1082.0 L753.5,1086.0 L750.5,1086.0Z" fill="#e6e6e6" stroke-width="0.6" stroke="#999"/>
<ellipse cx="752.0" cy="1081.5" rx="2.6" ry="1.8" fill="#ddd" stroke-width="0.6" stroke="#999"/>
<path d="M758.2,1082.0 L761.8,1082.0 L761.5,1086.0 L758.5,1086.0Z" fill="#e6e6e6" stroke-width="0.6" stroke="#999"/>
<ellipse cx="760.0" cy="1081.5" rx="2.6" ry="1.8" fill="#ddd" stroke-width="0.6" stroke="#999"/>
<ellipse cx="721.0" cy="1107.0" rx="2.0" ry="2.0" fill="none" stroke-width="1.0" stroke="#c9a060"/>
<ellipse cx="731.0" cy="1104.0" rx="2.0" ry="2.0" fill="none" stroke-width="1.0" stroke="#c9a060"/>
<ellipse cx="726.0" cy="1115.0" rx="2.0" ry="2.0" fill="none" stroke-width="1.0" stroke="#c9a060"/>
<ellipse cx="738.0" cy="1116.0" rx="2.0" ry="2.0" fill="none" stroke-width="1.0" stroke="#c9a060"/>
<ellipse cx="731.0" cy="1109.0" rx="2.0" ry="2.0" fill="none" stroke-width="1.0" stroke="#c9a060"/>
<path d="M783,1111 L793,1107 L797,1115 L787,1119 Z" fill="none" stroke-width="1.0" stroke="#999"/>
<path d="M755,1128 L759,1128 L758.5,1160 L756,1160 Z" fill="#e6e6e6" stroke-width="0.6" stroke="#aaa"/>
<path d="M773,1124 L780,1123 L777,1138 L772,1136 Z" fill="#c9a23e" stroke-width="0.6" stroke="#a9822a"/>
<path d="M775.5,1142.0 L774.5,1152.0" stroke-width="1.6" stroke="#c9a23e"/>
<path d="M797,1125 L800,1125 L801,1135 L797,1135 Z" fill="#222" stroke-width="0.5" stroke="#333"/>
</g>
<rect x="533.8" y="251.2" width="29.5" height="29.0" fill="#fff" stroke="#222" stroke-width="1.2"/><rect x="539.8" y="362.8" width="29.5" height="29.5" fill="#fff" stroke="#222" stroke-width="1.2"/><rect x="899.5" y="490.4" width="30.1" height="29.4" fill="#fff" stroke="#222" stroke-width="1.2"/><rect x="383.8" y="931.1" width="29.5" height="28.6" fill="#fff" stroke="#222" stroke-width="1.2"/><rect x="335.4" y="998.0" width="29.9" height="29.8" fill="#fff" stroke="#222" stroke-width="1.2"/><rect x="449.8" y="972.8" width="28.5" height="29.2" fill="#fff" stroke="#222" stroke-width="1.2"/><rect x="761.1" y="978.8" width="28.5" height="27.9" fill="#fff" stroke="#222" stroke-width="1.2"/>
<g font-family="Liberation Sans, sans-serif" font-weight="bold" font-size="25" fill="#0a0a0a" >
<text x="326.15" y="271.90">3</text><path transform="translate(340.05,271.90)" d="M5.6,-17.9 L9.9,-17.9 L9.9,0 L5.7,0 L5.7,-12.2 Q4.2,-10.9 1.6,-10.6 L1.6,-13.6 Q4.9,-14.2 5.6,-17.9 Z"/><path transform="translate(181.00,315.05)" d="M5.6,-17.9 L9.9,-17.9 L9.9,0 L5.7,0 L5.7,-12.2 Q4.2,-10.9 1.6,-10.6 L1.6,-13.6 Q4.9,-14.2 5.6,-17.9 Z"/><path transform="translate(194.90,315.05)" d="M5.6,-17.9 L9.9,-17.9 L9.9,0 L5.7,0 L5.7,-12.2 Q4.2,-10.9 1.6,-10.6 L1.6,-13.6 Q4.9,-14.2 5.6,-17.9 Z"/><text x="173.00" y="374.65">3</text><text x="186.90" y="374.65">2</text><path transform="translate(352.25,326.20)" d="M5.6,-17.9 L9.9,-17.9 L9.9,0 L5.7,0 L5.7,-12.2 Q4.2,-10.9 1.6,-10.6 L1.6,-13.6 Q4.9,-14.2 5.6,-17.9 Z"/><text x="366.15" y="326.20">3</text><path transform="translate(194.10,428.80)" d="M5.6,-17.9 L9.9,-17.9 L9.9,0 L5.7,0 L5.7,-12.2 Q4.2,-10.9 1.6,-10.6 L1.6,-13.6 Q4.9,-14.2 5.6,-17.9 Z"/><text x="208.00" y="428.80">5</text><text x="280.55" y="455.40">7</text><text x="294.45" y="455.40">5</text><path transform="translate(372.75,415.55)" d="M5.6,-17.9 L9.9,-17.9 L9.9,0 L5.7,0 L5.7,-12.2 Q4.2,-10.9 1.6,-10.6 L1.6,-13.6 Q4.9,-14.2 5.6,-17.9 Z"/><text x="386.65" y="415.55">9</text><path transform="translate(368.35,456.45)" d="M5.6,-17.9 L9.9,-17.9 L9.9,0 L5.7,0 L5.7,-12.2 Q4.2,-10.9 1.6,-10.6 L1.6,-13.6 Q4.9,-14.2 5.6,-17.9 Z"/><text x="382.25" y="456.45">8</text><text x="428.75" y="492.40">5</text><path transform="translate(537.50,340.15)" d="M5.6,-17.9 L9.9,-17.9 L9.9,0 L5.7,0 L5.7,-12.2 Q4.2,-10.9 1.6,-10.6 L1.6,-13.6 Q4.9,-14.2 5.6,-17.9 Z"/><text x="551.40" y="340.15">6</text><text x="734.00" y="438.80">2</text><text x="747.90" y="438.80">5</text><text x="644.40" y="477.45">5</text><text x="658.30" y="477.45">6</text><path transform="translate(688.95,478.90)" d="M5.6,-17.9 L9.9,-17.9 L9.9,0 L5.7,0 L5.7,-12.2 Q4.2,-10.9 1.6,-10.6 L1.6,-13.6 Q4.9,-14.2 5.6,-17.9 Z"/><text x="702.85" y="478.90">0</text><text x="668.20" y="504.50">6</text><text x="682.10" y="504.50">8</text><text x="622.55" y="514.25">5</text><text x="636.45" y="514.25">4</text><text x="744.45" y="504.75">7</text><text x="725.40" y="555.35">6</text><text x="739.30" y="555.35">9</text><text x="827.55" y="507.65">2</text><text x="841.45" y="507.65">6</text><text x="758.95" y="541.45">5</text><text x="772.85" y="541.45">0</text><text x="778.05" y="607.20">6</text><text x="791.95" y="607.20">3</text><text x="811.25" y="614.50">8</text><text x="696.80" y="648.00">2</text><text x="710.70" y="648.00">8</text><text x="741.65" y="712.50">4</text><text x="755.55" y="712.50">4</text><text x="564.00" y="524.00">4</text><text x="577.90" y="524.00">9</text><text x="563.50" y="566.25">5</text><text x="577.40" y="566.25">0</text><text x="423.25" y="571.75">3</text><text x="437.15" y="571.75">4</text><text x="423.75" y="598.70">6</text><text x="437.65" y="598.70">6</text><text x="564.00" y="628.90">2</text><text x="613.00" y="618.00">2</text><text x="626.90" y="618.00">7</text><path transform="translate(177.85,582.90)" d="M5.6,-17.9 L9.9,-17.9 L9.9,0 L5.7,0 L5.7,-12.2 Q4.2,-10.9 1.6,-10.6 L1.6,-13.6 Q4.9,-14.2 5.6,-17.9 Z"/><text x="191.75" y="582.90">2</text><path transform="translate(222.70,636.00)" d="M5.6,-17.9 L9.9,-17.9 L9.9,0 L5.7,0 L5.7,-12.2 Q4.2,-10.9 1.6,-10.6 L1.6,-13.6 Q4.9,-14.2 5.6,-17.9 Z"/><text x="236.60" y="636.00">4</text><path transform="translate(296.30,658.20)" d="M5.6,-17.9 L9.9,-17.9 L9.9,0 L5.7,0 L5.7,-12.2 Q4.2,-10.9 1.6,-10.6 L1.6,-13.6 Q4.9,-14.2 5.6,-17.9 Z"/><text x="310.20" y="658.20">2</text><text x="344.50" y="686.20">6</text><text x="358.40" y="686.20">4</text><text x="375.85" y="705.25">5</text><text x="389.75" y="705.25">7</text><text x="735.50" y="764.50">4</text><text x="749.40" y="764.50">5</text><text x="751.45" y="819.85">4</text><text x="765.35" y="819.85">6</text><text x="747.85" y="852.90">4</text><text x="761.75" y="852.90">8</text><text x="779.00" y="886.75">6</text><text x="792.90" y="886.75">4</text><text x="788.00" y="787.70">5</text><text x="801.90" y="787.70">9</text><text x="810.55" y="760.30">6</text><text x="824.45" y="760.30">0</text><text x="840.00" y="751.20">6</text><path transform="translate(853.90,751.20)" d="M5.6,-17.9 L9.9,-17.9 L9.9,0 L5.7,0 L5.7,-12.2 Q4.2,-10.9 1.6,-10.6 L1.6,-13.6 Q4.9,-14.2 5.6,-17.9 Z"/><text x="376.25" y="754.00">5</text><text x="390.15" y="754.00">4</text><text x="326.80" y="768.40">5</text><text x="340.70" y="768.40">6</text><text x="292.75" y="786.65">5</text><text x="306.65" y="786.65">3</text><text x="210.20" y="803.00">6</text><text x="245.10" y="799.45">5</text><text x="259.00" y="799.45">8</text><text x="408.70" y="823.90">6</text><text x="422.60" y="823.90">6</text><text x="299.40" y="873.00">5</text><text x="313.30" y="873.00">5</text><text x="361.30" y="874.30">3</text><text x="375.20" y="874.30">4</text><path transform="translate(199.90,881.20)" d="M5.6,-17.9 L9.9,-17.9 L9.9,0 L5.7,0 L5.7,-12.2 Q4.2,-10.9 1.6,-10.6 L1.6,-13.6 Q4.9,-14.2 5.6,-17.9 Z"/><text x="215.90" y="889.30">9</text><text x="198.50" y="938.35">5</text><path transform="translate(212.40,938.35)" d="M5.6,-17.9 L9.9,-17.9 L9.9,0 L5.7,0 L5.7,-12.2 Q4.2,-10.9 1.6,-10.6 L1.6,-13.6 Q4.9,-14.2 5.6,-17.9 Z"/><text x="426.80" y="845.80">5</text><text x="440.70" y="845.80">2</text><text x="467.70" y="776.00">4</text><path transform="translate(481.60,776.00)" d="M5.6,-17.9 L9.9,-17.9 L9.9,0 L5.7,0 L5.7,-12.2 Q4.2,-10.9 1.6,-10.6 L1.6,-13.6 Q4.9,-14.2 5.6,-17.9 Z"/><text x="623.00" y="768.65">4</text><text x="636.90" y="768.65">7</text><text x="643.50" y="796.25">2</text><text x="657.40" y="796.25">9</text><text x="626.35" y="818.20">3</text><text x="640.25" y="818.20">0</text><text x="488.40" y="821.00">3</text><text x="571.40" y="822.65">4</text><text x="596.85" y="858.50">4</text><text x="610.75" y="858.50">3</text><text x="475.00" y="851.00">3</text><text x="488.90" y="851.00">7</text><text x="448.70" y="868.70">3</text><text x="462.60" y="868.70">9</text><text x="597.90" y="879.60">2</text><text x="438.90" y="893.55">3</text><text x="452.80" y="893.55">3</text><text x="545.65" y="891.45">3</text><text x="559.55" y="891.45">8</text><text x="587.75" y="911.90">6</text><text x="601.65" y="911.90">5</text><text x="428.70" y="919.80">3</text><text x="442.60" y="919.80">5</text><text x="435.70" y="945.75">3</text><text x="449.60" y="945.75">6</text><text x="631.30" y="957.90">7</text><path transform="translate(645.20,957.90)" d="M5.6,-17.9 L9.9,-17.9 L9.9,0 L5.7,0 L5.7,-12.2 Q4.2,-10.9 1.6,-10.6 L1.6,-13.6 Q4.9,-14.2 5.6,-17.9 Z"/><text x="197.55" y="970.80">4</text><text x="211.45" y="970.80">2</text><text x="198.70" y="998.15">6</text><text x="212.60" y="998.15">7</text><text x="195.65" y="1037.60">6</text><text x="209.55" y="1037.60">2</text><text x="629.25" y="1085.25">7</text><text x="643.15" y="1085.25">0</text><text x="442.35" y="1162.20">7</text><text x="456.25" y="1162.20">3</text><text x="626.65" y="1167.75">7</text><text x="640.55" y="1167.75">2</text><text x="536.00" y="273.25">2</text><path transform="translate(549.90,273.25)" d="M5.6,-17.9 L9.9,-17.9 L9.9,0 L5.7,0 L5.7,-12.2 Q4.2,-10.9 1.6,-10.6 L1.6,-13.6 Q4.9,-14.2 5.6,-17.9 Z"/><path transform="translate(540.00,386.50)" d="M5.6,-17.9 L9.9,-17.9 L9.9,0 L5.7,0 L5.7,-12.2 Q4.2,-10.9 1.6,-10.6 L1.6,-13.6 Q4.9,-14.2 5.6,-17.9 Z"/><text x="553.90" y="386.50">7</text><text x="900.00" y="514.05">2</text><text x="913.90" y="514.05">4</text><text x="385.00" y="954.45">4</text><text x="398.90" y="954.45">0</text><text x="336.30" y="1021.95">2</text><text x="350.20" y="1021.95">2</text><text x="449.50" y="996.35">7</text><text x="463.40" y="996.35">4</text><text x="761.40" y="1001.70">2</text><text x="775.30" y="1001.70">3</text>
</g>
</svg>
</body></html>
